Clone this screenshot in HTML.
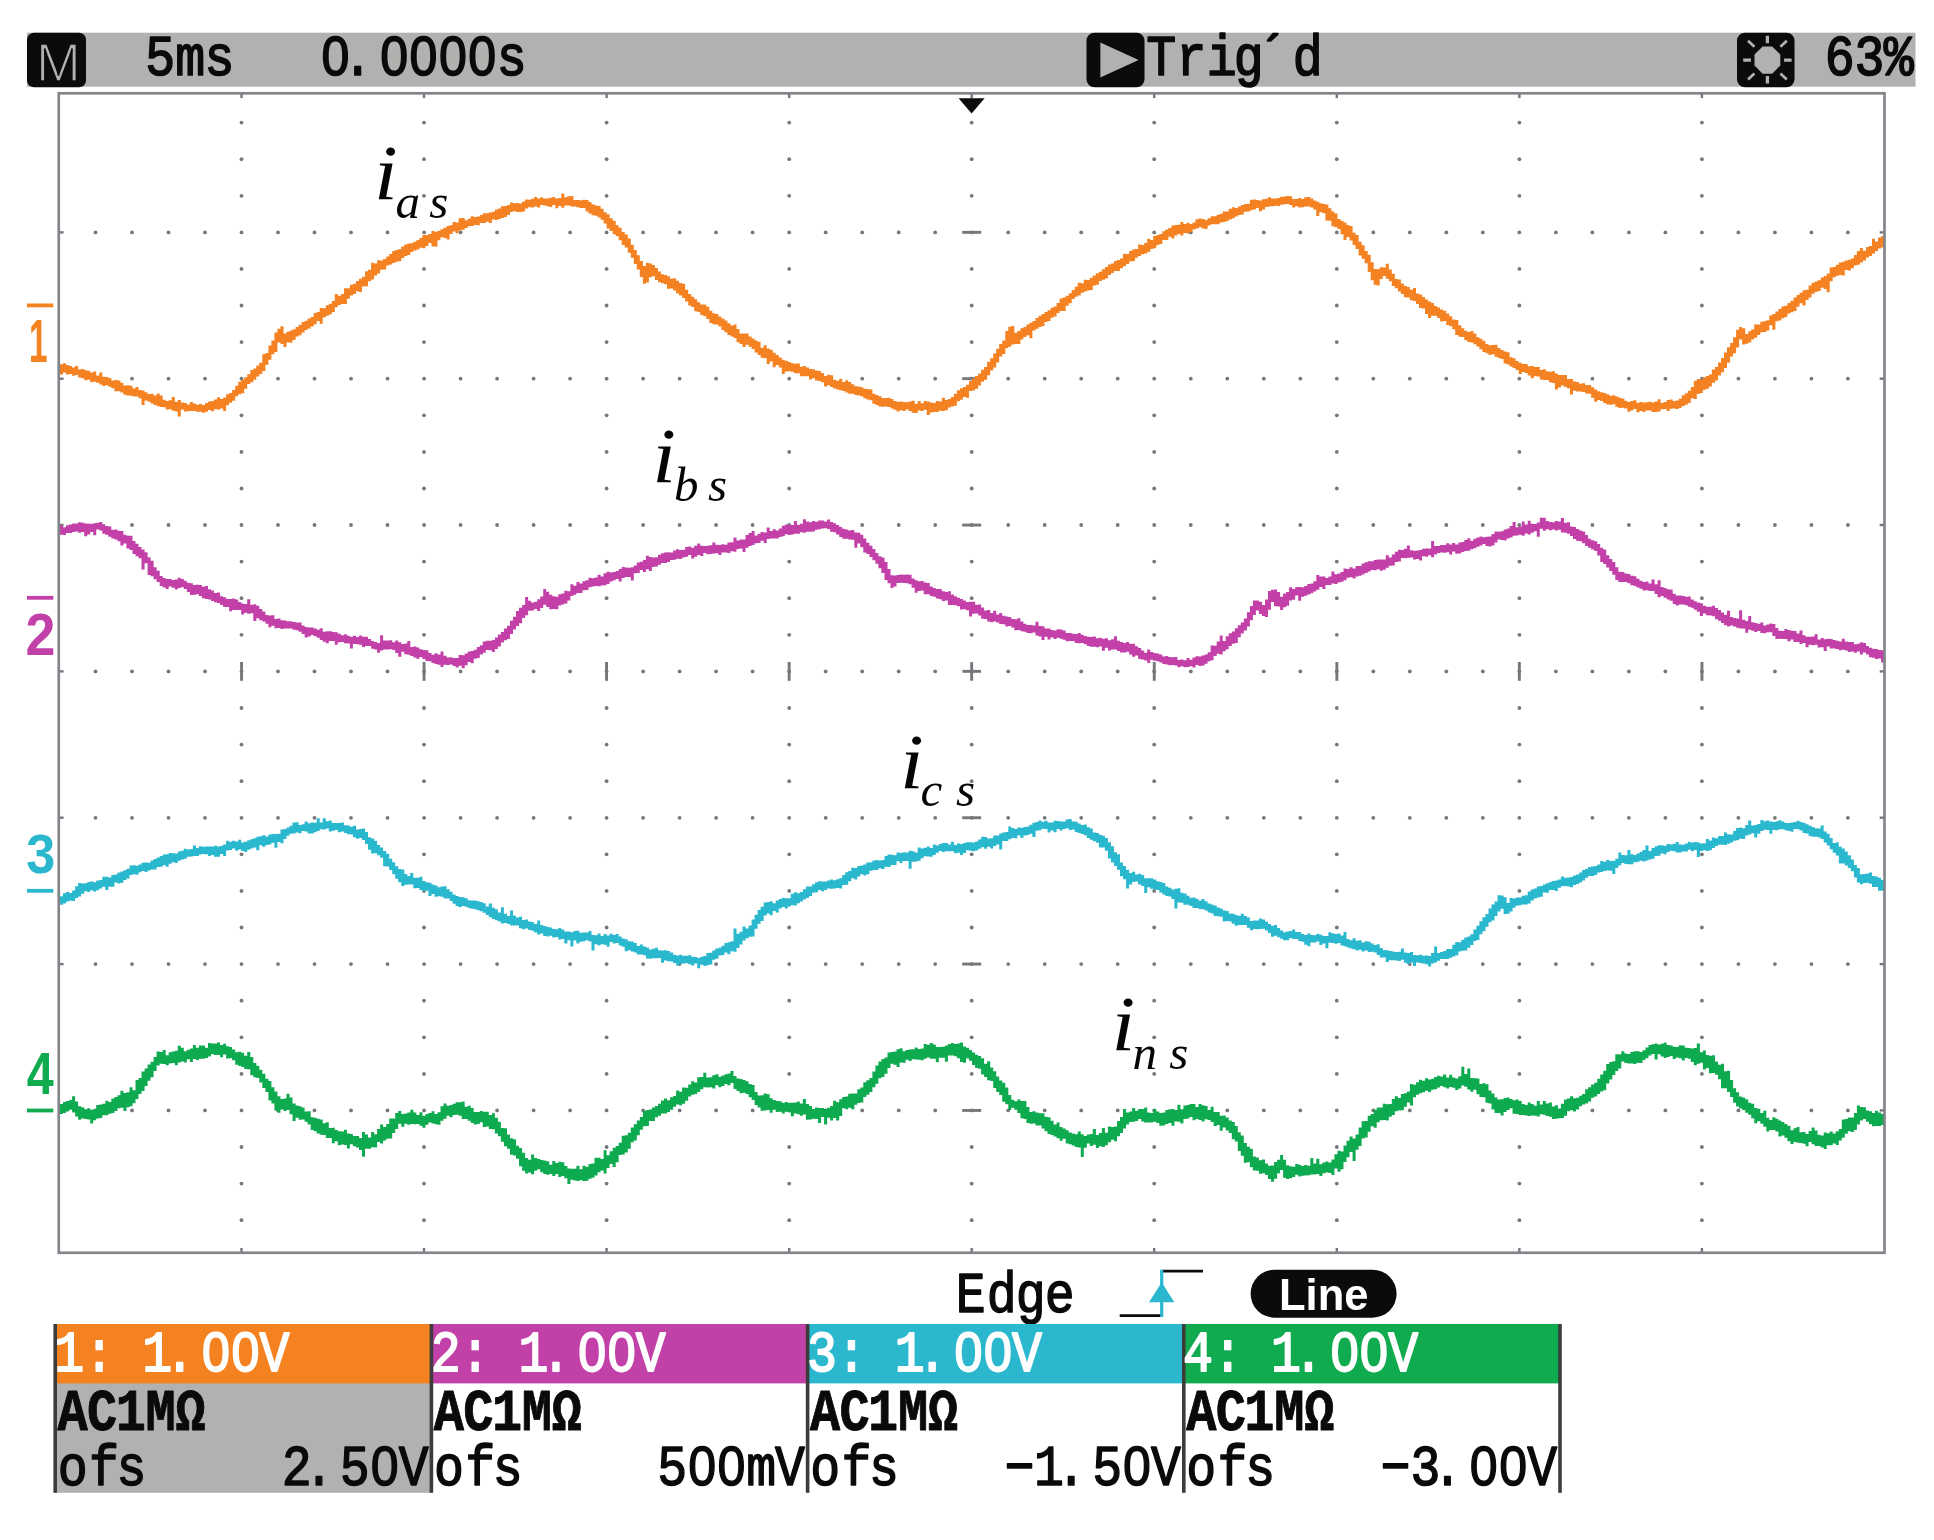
<!DOCTYPE html><html><head><meta charset="utf-8"><style>html,body{margin:0;padding:0;background:#fff}svg{display:block;filter:blur(0.55px)}text{font-family:"Liberation Sans",sans-serif;white-space:pre}.ser{font-family:"Liberation Serif",serif;font-style:italic}.mo{font-family:"Liberation Mono",monospace}</style></head><body>
<svg width="1934" height="1540" viewBox="0 0 1934 1540">
<defs><filter id="bl" x="0" y="0" width="100%" height="100%" filterUnits="userSpaceOnUse"><feGaussianBlur stdDeviation="0.7"/></filter></defs>
<rect width="1934" height="1540" fill="#fff"/>
<rect x="27" y="32.7" width="1888.5" height="54" fill="#b1b1af"/>
<rect x="27" y="32.7" width="59" height="54.6" rx="7" fill="#0b0b0b"/>
<text y="80.5" font-size="54" fill="#b1b1af" stroke="#0b0b0b" stroke-width="1.6"><tspan x="36.1" textLength="44.8" lengthAdjust="spacingAndGlyphs">M</tspan></text>
<text class="mo" transform="scale(0.86 1)" x="168.8 203.8 237.7" y="75.3" font-size="58" fill="#0a0a0a" stroke="#0a0a0a" stroke-width="1.7" stroke-linejoin="round">5ms</text>
<text class="mo" transform="scale(0.86 1)" x="372.7 398.7 440.9 475.1 509.2 543.3 577.7" y="75.3" font-size="58" fill="#0a0a0a" stroke="#0a0a0a" stroke-width="1.7" stroke-linejoin="round">0.0000s</text><rect x="331.1" y="48.7" width="8.8" height="15" rx="2" fill="#b1b1af"/><rect x="389.8" y="48.7" width="8.8" height="15" rx="2" fill="#b1b1af"/><rect x="419.1" y="48.7" width="8.8" height="15" rx="2" fill="#b1b1af"/><rect x="448.4" y="48.7" width="8.8" height="15" rx="2" fill="#b1b1af"/><rect x="477.8" y="48.7" width="8.8" height="15" rx="2" fill="#b1b1af"/>
<rect x="1086.5" y="32.7" width="58" height="54.6" rx="8" fill="#0b0b0b"/>
<path d="M1100.4 42.5V77.4L1138.6 60Z" fill="#b1b1af"/>
<text class="mo" transform="scale(0.86 1)" x="1333.0 1368.1 1403.1 1434.6 1462.4 1503.1" y="75.3" font-size="58" fill="#0a0a0a" stroke="#0a0a0a" stroke-width="1.7" stroke-linejoin="round">Trig´d</text>
<rect x="1737" y="32.7" width="57.5" height="54.6" rx="8" fill="#0b0b0b"/>
<path d="M1762.6000000000001 46.5H1772.2L1780.3000000000002 54.6V65.6L1772.2 73.8H1762.6000000000001L1754.5 65.6V54.6Z" fill="#b1b1af"/>
<g stroke="#b1b1af" stroke-width="3.3" stroke-linecap="butt"><path d="M1767.4 35.8V43.2M1767.4 76.1V83.6M1743.2 60.1H1750.9M1784.1000000000001 60.1H1791.6000000000001"/><path stroke-width="2.7" d="M1748.0 40.8L1754.4 46.8M1786.8000000000002 40.8L1780.4 46.8M1748.0 79.4L1754.4 73.4M1786.8000000000002 79.4L1780.4 73.4"/></g>
<text class="mo" transform="scale(0.86 1)" x="2121.7 2156.4 2190.5" y="75.3" font-size="58" fill="#0a0a0a" stroke="#0a0a0a" stroke-width="1.7" stroke-linejoin="round">63%</text>
<g fill="#75777a">
<circle cx="95.5" cy="232.4" r="1.9"/><circle cx="132.0" cy="232.4" r="1.9"/><circle cx="168.5" cy="232.4" r="1.9"/><circle cx="205.0" cy="232.4" r="1.9"/><circle cx="241.5" cy="232.4" r="1.9"/><circle cx="278.0" cy="232.4" r="1.9"/><circle cx="314.5" cy="232.4" r="1.9"/><circle cx="351.0" cy="232.4" r="1.9"/><circle cx="387.5" cy="232.4" r="1.9"/><circle cx="424.1" cy="232.4" r="1.9"/><circle cx="460.6" cy="232.4" r="1.9"/><circle cx="497.1" cy="232.4" r="1.9"/><circle cx="533.6" cy="232.4" r="1.9"/><circle cx="570.1" cy="232.4" r="1.9"/><circle cx="606.6" cy="232.4" r="1.9"/><circle cx="643.1" cy="232.4" r="1.9"/><circle cx="679.6" cy="232.4" r="1.9"/><circle cx="716.1" cy="232.4" r="1.9"/><circle cx="752.6" cy="232.4" r="1.9"/><circle cx="789.2" cy="232.4" r="1.9"/><circle cx="825.7" cy="232.4" r="1.9"/><circle cx="862.2" cy="232.4" r="1.9"/><circle cx="898.7" cy="232.4" r="1.9"/><circle cx="935.2" cy="232.4" r="1.9"/><circle cx="971.7" cy="232.4" r="1.9"/><circle cx="1008.2" cy="232.4" r="1.9"/><circle cx="1044.7" cy="232.4" r="1.9"/><circle cx="1081.2" cy="232.4" r="1.9"/><circle cx="1117.7" cy="232.4" r="1.9"/><circle cx="1154.2" cy="232.4" r="1.9"/><circle cx="1190.8" cy="232.4" r="1.9"/><circle cx="1227.3" cy="232.4" r="1.9"/><circle cx="1263.8" cy="232.4" r="1.9"/><circle cx="1300.3" cy="232.4" r="1.9"/><circle cx="1336.8" cy="232.4" r="1.9"/><circle cx="1373.3" cy="232.4" r="1.9"/><circle cx="1409.8" cy="232.4" r="1.9"/><circle cx="1446.3" cy="232.4" r="1.9"/><circle cx="1482.8" cy="232.4" r="1.9"/><circle cx="1519.3" cy="232.4" r="1.9"/><circle cx="1555.9" cy="232.4" r="1.9"/><circle cx="1592.4" cy="232.4" r="1.9"/><circle cx="1628.9" cy="232.4" r="1.9"/><circle cx="1665.4" cy="232.4" r="1.9"/><circle cx="1701.9" cy="232.4" r="1.9"/><circle cx="1738.4" cy="232.4" r="1.9"/><circle cx="1774.9" cy="232.4" r="1.9"/><circle cx="1811.4" cy="232.4" r="1.9"/><circle cx="1847.9" cy="232.4" r="1.9"/><circle cx="95.5" cy="378.7" r="1.9"/><circle cx="132.0" cy="378.7" r="1.9"/><circle cx="168.5" cy="378.7" r="1.9"/><circle cx="205.0" cy="378.7" r="1.9"/><circle cx="241.5" cy="378.7" r="1.9"/><circle cx="278.0" cy="378.7" r="1.9"/><circle cx="314.5" cy="378.7" r="1.9"/><circle cx="351.0" cy="378.7" r="1.9"/><circle cx="387.5" cy="378.7" r="1.9"/><circle cx="424.1" cy="378.7" r="1.9"/><circle cx="460.6" cy="378.7" r="1.9"/><circle cx="497.1" cy="378.7" r="1.9"/><circle cx="533.6" cy="378.7" r="1.9"/><circle cx="570.1" cy="378.7" r="1.9"/><circle cx="606.6" cy="378.7" r="1.9"/><circle cx="643.1" cy="378.7" r="1.9"/><circle cx="679.6" cy="378.7" r="1.9"/><circle cx="716.1" cy="378.7" r="1.9"/><circle cx="752.6" cy="378.7" r="1.9"/><circle cx="789.2" cy="378.7" r="1.9"/><circle cx="825.7" cy="378.7" r="1.9"/><circle cx="862.2" cy="378.7" r="1.9"/><circle cx="898.7" cy="378.7" r="1.9"/><circle cx="935.2" cy="378.7" r="1.9"/><circle cx="971.7" cy="378.7" r="1.9"/><circle cx="1008.2" cy="378.7" r="1.9"/><circle cx="1044.7" cy="378.7" r="1.9"/><circle cx="1081.2" cy="378.7" r="1.9"/><circle cx="1117.7" cy="378.7" r="1.9"/><circle cx="1154.2" cy="378.7" r="1.9"/><circle cx="1190.8" cy="378.7" r="1.9"/><circle cx="1227.3" cy="378.7" r="1.9"/><circle cx="1263.8" cy="378.7" r="1.9"/><circle cx="1300.3" cy="378.7" r="1.9"/><circle cx="1336.8" cy="378.7" r="1.9"/><circle cx="1373.3" cy="378.7" r="1.9"/><circle cx="1409.8" cy="378.7" r="1.9"/><circle cx="1446.3" cy="378.7" r="1.9"/><circle cx="1482.8" cy="378.7" r="1.9"/><circle cx="1519.3" cy="378.7" r="1.9"/><circle cx="1555.9" cy="378.7" r="1.9"/><circle cx="1592.4" cy="378.7" r="1.9"/><circle cx="1628.9" cy="378.7" r="1.9"/><circle cx="1665.4" cy="378.7" r="1.9"/><circle cx="1701.9" cy="378.7" r="1.9"/><circle cx="1738.4" cy="378.7" r="1.9"/><circle cx="1774.9" cy="378.7" r="1.9"/><circle cx="1811.4" cy="378.7" r="1.9"/><circle cx="1847.9" cy="378.7" r="1.9"/><circle cx="95.5" cy="525.0" r="1.9"/><circle cx="132.0" cy="525.0" r="1.9"/><circle cx="168.5" cy="525.0" r="1.9"/><circle cx="205.0" cy="525.0" r="1.9"/><circle cx="241.5" cy="525.0" r="1.9"/><circle cx="278.0" cy="525.0" r="1.9"/><circle cx="314.5" cy="525.0" r="1.9"/><circle cx="351.0" cy="525.0" r="1.9"/><circle cx="387.5" cy="525.0" r="1.9"/><circle cx="424.1" cy="525.0" r="1.9"/><circle cx="460.6" cy="525.0" r="1.9"/><circle cx="497.1" cy="525.0" r="1.9"/><circle cx="533.6" cy="525.0" r="1.9"/><circle cx="570.1" cy="525.0" r="1.9"/><circle cx="606.6" cy="525.0" r="1.9"/><circle cx="643.1" cy="525.0" r="1.9"/><circle cx="679.6" cy="525.0" r="1.9"/><circle cx="716.1" cy="525.0" r="1.9"/><circle cx="752.6" cy="525.0" r="1.9"/><circle cx="789.2" cy="525.0" r="1.9"/><circle cx="825.7" cy="525.0" r="1.9"/><circle cx="862.2" cy="525.0" r="1.9"/><circle cx="898.7" cy="525.0" r="1.9"/><circle cx="935.2" cy="525.0" r="1.9"/><circle cx="971.7" cy="525.0" r="1.9"/><circle cx="1008.2" cy="525.0" r="1.9"/><circle cx="1044.7" cy="525.0" r="1.9"/><circle cx="1081.2" cy="525.0" r="1.9"/><circle cx="1117.7" cy="525.0" r="1.9"/><circle cx="1154.2" cy="525.0" r="1.9"/><circle cx="1190.8" cy="525.0" r="1.9"/><circle cx="1227.3" cy="525.0" r="1.9"/><circle cx="1263.8" cy="525.0" r="1.9"/><circle cx="1300.3" cy="525.0" r="1.9"/><circle cx="1336.8" cy="525.0" r="1.9"/><circle cx="1373.3" cy="525.0" r="1.9"/><circle cx="1409.8" cy="525.0" r="1.9"/><circle cx="1446.3" cy="525.0" r="1.9"/><circle cx="1482.8" cy="525.0" r="1.9"/><circle cx="1519.3" cy="525.0" r="1.9"/><circle cx="1555.9" cy="525.0" r="1.9"/><circle cx="1592.4" cy="525.0" r="1.9"/><circle cx="1628.9" cy="525.0" r="1.9"/><circle cx="1665.4" cy="525.0" r="1.9"/><circle cx="1701.9" cy="525.0" r="1.9"/><circle cx="1738.4" cy="525.0" r="1.9"/><circle cx="1774.9" cy="525.0" r="1.9"/><circle cx="1811.4" cy="525.0" r="1.9"/><circle cx="1847.9" cy="525.0" r="1.9"/><circle cx="95.5" cy="671.4" r="1.9"/><circle cx="132.0" cy="671.4" r="1.9"/><circle cx="168.5" cy="671.4" r="1.9"/><circle cx="205.0" cy="671.4" r="1.9"/><circle cx="241.5" cy="671.4" r="1.9"/><circle cx="278.0" cy="671.4" r="1.9"/><circle cx="314.5" cy="671.4" r="1.9"/><circle cx="351.0" cy="671.4" r="1.9"/><circle cx="387.5" cy="671.4" r="1.9"/><circle cx="424.1" cy="671.4" r="1.9"/><circle cx="460.6" cy="671.4" r="1.9"/><circle cx="497.1" cy="671.4" r="1.9"/><circle cx="533.6" cy="671.4" r="1.9"/><circle cx="570.1" cy="671.4" r="1.9"/><circle cx="606.6" cy="671.4" r="1.9"/><circle cx="643.1" cy="671.4" r="1.9"/><circle cx="679.6" cy="671.4" r="1.9"/><circle cx="716.1" cy="671.4" r="1.9"/><circle cx="752.6" cy="671.4" r="1.9"/><circle cx="789.2" cy="671.4" r="1.9"/><circle cx="825.7" cy="671.4" r="1.9"/><circle cx="862.2" cy="671.4" r="1.9"/><circle cx="898.7" cy="671.4" r="1.9"/><circle cx="935.2" cy="671.4" r="1.9"/><circle cx="971.7" cy="671.4" r="1.9"/><circle cx="1008.2" cy="671.4" r="1.9"/><circle cx="1044.7" cy="671.4" r="1.9"/><circle cx="1081.2" cy="671.4" r="1.9"/><circle cx="1117.7" cy="671.4" r="1.9"/><circle cx="1154.2" cy="671.4" r="1.9"/><circle cx="1190.8" cy="671.4" r="1.9"/><circle cx="1227.3" cy="671.4" r="1.9"/><circle cx="1263.8" cy="671.4" r="1.9"/><circle cx="1300.3" cy="671.4" r="1.9"/><circle cx="1336.8" cy="671.4" r="1.9"/><circle cx="1373.3" cy="671.4" r="1.9"/><circle cx="1409.8" cy="671.4" r="1.9"/><circle cx="1446.3" cy="671.4" r="1.9"/><circle cx="1482.8" cy="671.4" r="1.9"/><circle cx="1519.3" cy="671.4" r="1.9"/><circle cx="1555.9" cy="671.4" r="1.9"/><circle cx="1592.4" cy="671.4" r="1.9"/><circle cx="1628.9" cy="671.4" r="1.9"/><circle cx="1665.4" cy="671.4" r="1.9"/><circle cx="1701.9" cy="671.4" r="1.9"/><circle cx="1738.4" cy="671.4" r="1.9"/><circle cx="1774.9" cy="671.4" r="1.9"/><circle cx="1811.4" cy="671.4" r="1.9"/><circle cx="1847.9" cy="671.4" r="1.9"/><circle cx="95.5" cy="817.8" r="1.9"/><circle cx="132.0" cy="817.8" r="1.9"/><circle cx="168.5" cy="817.8" r="1.9"/><circle cx="205.0" cy="817.8" r="1.9"/><circle cx="241.5" cy="817.8" r="1.9"/><circle cx="278.0" cy="817.8" r="1.9"/><circle cx="314.5" cy="817.8" r="1.9"/><circle cx="351.0" cy="817.8" r="1.9"/><circle cx="387.5" cy="817.8" r="1.9"/><circle cx="424.1" cy="817.8" r="1.9"/><circle cx="460.6" cy="817.8" r="1.9"/><circle cx="497.1" cy="817.8" r="1.9"/><circle cx="533.6" cy="817.8" r="1.9"/><circle cx="570.1" cy="817.8" r="1.9"/><circle cx="606.6" cy="817.8" r="1.9"/><circle cx="643.1" cy="817.8" r="1.9"/><circle cx="679.6" cy="817.8" r="1.9"/><circle cx="716.1" cy="817.8" r="1.9"/><circle cx="752.6" cy="817.8" r="1.9"/><circle cx="789.2" cy="817.8" r="1.9"/><circle cx="825.7" cy="817.8" r="1.9"/><circle cx="862.2" cy="817.8" r="1.9"/><circle cx="898.7" cy="817.8" r="1.9"/><circle cx="935.2" cy="817.8" r="1.9"/><circle cx="971.7" cy="817.8" r="1.9"/><circle cx="1008.2" cy="817.8" r="1.9"/><circle cx="1044.7" cy="817.8" r="1.9"/><circle cx="1081.2" cy="817.8" r="1.9"/><circle cx="1117.7" cy="817.8" r="1.9"/><circle cx="1154.2" cy="817.8" r="1.9"/><circle cx="1190.8" cy="817.8" r="1.9"/><circle cx="1227.3" cy="817.8" r="1.9"/><circle cx="1263.8" cy="817.8" r="1.9"/><circle cx="1300.3" cy="817.8" r="1.9"/><circle cx="1336.8" cy="817.8" r="1.9"/><circle cx="1373.3" cy="817.8" r="1.9"/><circle cx="1409.8" cy="817.8" r="1.9"/><circle cx="1446.3" cy="817.8" r="1.9"/><circle cx="1482.8" cy="817.8" r="1.9"/><circle cx="1519.3" cy="817.8" r="1.9"/><circle cx="1555.9" cy="817.8" r="1.9"/><circle cx="1592.4" cy="817.8" r="1.9"/><circle cx="1628.9" cy="817.8" r="1.9"/><circle cx="1665.4" cy="817.8" r="1.9"/><circle cx="1701.9" cy="817.8" r="1.9"/><circle cx="1738.4" cy="817.8" r="1.9"/><circle cx="1774.9" cy="817.8" r="1.9"/><circle cx="1811.4" cy="817.8" r="1.9"/><circle cx="1847.9" cy="817.8" r="1.9"/><circle cx="95.5" cy="964.1" r="1.9"/><circle cx="132.0" cy="964.1" r="1.9"/><circle cx="168.5" cy="964.1" r="1.9"/><circle cx="205.0" cy="964.1" r="1.9"/><circle cx="241.5" cy="964.1" r="1.9"/><circle cx="278.0" cy="964.1" r="1.9"/><circle cx="314.5" cy="964.1" r="1.9"/><circle cx="351.0" cy="964.1" r="1.9"/><circle cx="387.5" cy="964.1" r="1.9"/><circle cx="424.1" cy="964.1" r="1.9"/><circle cx="460.6" cy="964.1" r="1.9"/><circle cx="497.1" cy="964.1" r="1.9"/><circle cx="533.6" cy="964.1" r="1.9"/><circle cx="570.1" cy="964.1" r="1.9"/><circle cx="606.6" cy="964.1" r="1.9"/><circle cx="643.1" cy="964.1" r="1.9"/><circle cx="679.6" cy="964.1" r="1.9"/><circle cx="716.1" cy="964.1" r="1.9"/><circle cx="752.6" cy="964.1" r="1.9"/><circle cx="789.2" cy="964.1" r="1.9"/><circle cx="825.7" cy="964.1" r="1.9"/><circle cx="862.2" cy="964.1" r="1.9"/><circle cx="898.7" cy="964.1" r="1.9"/><circle cx="935.2" cy="964.1" r="1.9"/><circle cx="971.7" cy="964.1" r="1.9"/><circle cx="1008.2" cy="964.1" r="1.9"/><circle cx="1044.7" cy="964.1" r="1.9"/><circle cx="1081.2" cy="964.1" r="1.9"/><circle cx="1117.7" cy="964.1" r="1.9"/><circle cx="1154.2" cy="964.1" r="1.9"/><circle cx="1190.8" cy="964.1" r="1.9"/><circle cx="1227.3" cy="964.1" r="1.9"/><circle cx="1263.8" cy="964.1" r="1.9"/><circle cx="1300.3" cy="964.1" r="1.9"/><circle cx="1336.8" cy="964.1" r="1.9"/><circle cx="1373.3" cy="964.1" r="1.9"/><circle cx="1409.8" cy="964.1" r="1.9"/><circle cx="1446.3" cy="964.1" r="1.9"/><circle cx="1482.8" cy="964.1" r="1.9"/><circle cx="1519.3" cy="964.1" r="1.9"/><circle cx="1555.9" cy="964.1" r="1.9"/><circle cx="1592.4" cy="964.1" r="1.9"/><circle cx="1628.9" cy="964.1" r="1.9"/><circle cx="1665.4" cy="964.1" r="1.9"/><circle cx="1701.9" cy="964.1" r="1.9"/><circle cx="1738.4" cy="964.1" r="1.9"/><circle cx="1774.9" cy="964.1" r="1.9"/><circle cx="1811.4" cy="964.1" r="1.9"/><circle cx="1847.9" cy="964.1" r="1.9"/><circle cx="95.5" cy="1110.4" r="1.9"/><circle cx="132.0" cy="1110.4" r="1.9"/><circle cx="168.5" cy="1110.4" r="1.9"/><circle cx="205.0" cy="1110.4" r="1.9"/><circle cx="241.5" cy="1110.4" r="1.9"/><circle cx="278.0" cy="1110.4" r="1.9"/><circle cx="314.5" cy="1110.4" r="1.9"/><circle cx="351.0" cy="1110.4" r="1.9"/><circle cx="387.5" cy="1110.4" r="1.9"/><circle cx="424.1" cy="1110.4" r="1.9"/><circle cx="460.6" cy="1110.4" r="1.9"/><circle cx="497.1" cy="1110.4" r="1.9"/><circle cx="533.6" cy="1110.4" r="1.9"/><circle cx="570.1" cy="1110.4" r="1.9"/><circle cx="606.6" cy="1110.4" r="1.9"/><circle cx="643.1" cy="1110.4" r="1.9"/><circle cx="679.6" cy="1110.4" r="1.9"/><circle cx="716.1" cy="1110.4" r="1.9"/><circle cx="752.6" cy="1110.4" r="1.9"/><circle cx="789.2" cy="1110.4" r="1.9"/><circle cx="825.7" cy="1110.4" r="1.9"/><circle cx="862.2" cy="1110.4" r="1.9"/><circle cx="898.7" cy="1110.4" r="1.9"/><circle cx="935.2" cy="1110.4" r="1.9"/><circle cx="971.7" cy="1110.4" r="1.9"/><circle cx="1008.2" cy="1110.4" r="1.9"/><circle cx="1044.7" cy="1110.4" r="1.9"/><circle cx="1081.2" cy="1110.4" r="1.9"/><circle cx="1117.7" cy="1110.4" r="1.9"/><circle cx="1154.2" cy="1110.4" r="1.9"/><circle cx="1190.8" cy="1110.4" r="1.9"/><circle cx="1227.3" cy="1110.4" r="1.9"/><circle cx="1263.8" cy="1110.4" r="1.9"/><circle cx="1300.3" cy="1110.4" r="1.9"/><circle cx="1336.8" cy="1110.4" r="1.9"/><circle cx="1373.3" cy="1110.4" r="1.9"/><circle cx="1409.8" cy="1110.4" r="1.9"/><circle cx="1446.3" cy="1110.4" r="1.9"/><circle cx="1482.8" cy="1110.4" r="1.9"/><circle cx="1519.3" cy="1110.4" r="1.9"/><circle cx="1555.9" cy="1110.4" r="1.9"/><circle cx="1592.4" cy="1110.4" r="1.9"/><circle cx="1628.9" cy="1110.4" r="1.9"/><circle cx="1665.4" cy="1110.4" r="1.9"/><circle cx="1701.9" cy="1110.4" r="1.9"/><circle cx="1738.4" cy="1110.4" r="1.9"/><circle cx="1774.9" cy="1110.4" r="1.9"/><circle cx="1811.4" cy="1110.4" r="1.9"/><circle cx="1847.9" cy="1110.4" r="1.9"/><circle cx="241.5" cy="122.6" r="1.9"/><circle cx="241.5" cy="159.2" r="1.9"/><circle cx="241.5" cy="195.8" r="1.9"/><circle cx="241.5" cy="268.9" r="1.9"/><circle cx="241.5" cy="305.5" r="1.9"/><circle cx="241.5" cy="342.1" r="1.9"/><circle cx="241.5" cy="415.3" r="1.9"/><circle cx="241.5" cy="451.9" r="1.9"/><circle cx="241.5" cy="488.5" r="1.9"/><circle cx="241.5" cy="561.6" r="1.9"/><circle cx="241.5" cy="598.2" r="1.9"/><circle cx="241.5" cy="634.8" r="1.9"/><circle cx="241.5" cy="708.0" r="1.9"/><circle cx="241.5" cy="744.6" r="1.9"/><circle cx="241.5" cy="781.2" r="1.9"/><circle cx="241.5" cy="854.3" r="1.9"/><circle cx="241.5" cy="890.9" r="1.9"/><circle cx="241.5" cy="927.5" r="1.9"/><circle cx="241.5" cy="1000.7" r="1.9"/><circle cx="241.5" cy="1037.3" r="1.9"/><circle cx="241.5" cy="1073.9" r="1.9"/><circle cx="241.5" cy="1147.0" r="1.9"/><circle cx="241.5" cy="1183.6" r="1.9"/><circle cx="241.5" cy="1220.2" r="1.9"/><circle cx="424.0" cy="122.6" r="1.9"/><circle cx="424.0" cy="159.2" r="1.9"/><circle cx="424.0" cy="195.8" r="1.9"/><circle cx="424.0" cy="268.9" r="1.9"/><circle cx="424.0" cy="305.5" r="1.9"/><circle cx="424.0" cy="342.1" r="1.9"/><circle cx="424.0" cy="415.3" r="1.9"/><circle cx="424.0" cy="451.9" r="1.9"/><circle cx="424.0" cy="488.5" r="1.9"/><circle cx="424.0" cy="561.6" r="1.9"/><circle cx="424.0" cy="598.2" r="1.9"/><circle cx="424.0" cy="634.8" r="1.9"/><circle cx="424.0" cy="708.0" r="1.9"/><circle cx="424.0" cy="744.6" r="1.9"/><circle cx="424.0" cy="781.2" r="1.9"/><circle cx="424.0" cy="854.3" r="1.9"/><circle cx="424.0" cy="890.9" r="1.9"/><circle cx="424.0" cy="927.5" r="1.9"/><circle cx="424.0" cy="1000.7" r="1.9"/><circle cx="424.0" cy="1037.3" r="1.9"/><circle cx="424.0" cy="1073.9" r="1.9"/><circle cx="424.0" cy="1147.0" r="1.9"/><circle cx="424.0" cy="1183.6" r="1.9"/><circle cx="424.0" cy="1220.2" r="1.9"/><circle cx="606.6" cy="122.6" r="1.9"/><circle cx="606.6" cy="159.2" r="1.9"/><circle cx="606.6" cy="195.8" r="1.9"/><circle cx="606.6" cy="268.9" r="1.9"/><circle cx="606.6" cy="305.5" r="1.9"/><circle cx="606.6" cy="342.1" r="1.9"/><circle cx="606.6" cy="415.3" r="1.9"/><circle cx="606.6" cy="451.9" r="1.9"/><circle cx="606.6" cy="488.5" r="1.9"/><circle cx="606.6" cy="561.6" r="1.9"/><circle cx="606.6" cy="598.2" r="1.9"/><circle cx="606.6" cy="634.8" r="1.9"/><circle cx="606.6" cy="708.0" r="1.9"/><circle cx="606.6" cy="744.6" r="1.9"/><circle cx="606.6" cy="781.2" r="1.9"/><circle cx="606.6" cy="854.3" r="1.9"/><circle cx="606.6" cy="890.9" r="1.9"/><circle cx="606.6" cy="927.5" r="1.9"/><circle cx="606.6" cy="1000.7" r="1.9"/><circle cx="606.6" cy="1037.3" r="1.9"/><circle cx="606.6" cy="1073.9" r="1.9"/><circle cx="606.6" cy="1147.0" r="1.9"/><circle cx="606.6" cy="1183.6" r="1.9"/><circle cx="606.6" cy="1220.2" r="1.9"/><circle cx="789.2" cy="122.6" r="1.9"/><circle cx="789.2" cy="159.2" r="1.9"/><circle cx="789.2" cy="195.8" r="1.9"/><circle cx="789.2" cy="268.9" r="1.9"/><circle cx="789.2" cy="305.5" r="1.9"/><circle cx="789.2" cy="342.1" r="1.9"/><circle cx="789.2" cy="415.3" r="1.9"/><circle cx="789.2" cy="451.9" r="1.9"/><circle cx="789.2" cy="488.5" r="1.9"/><circle cx="789.2" cy="561.6" r="1.9"/><circle cx="789.2" cy="598.2" r="1.9"/><circle cx="789.2" cy="634.8" r="1.9"/><circle cx="789.2" cy="708.0" r="1.9"/><circle cx="789.2" cy="744.6" r="1.9"/><circle cx="789.2" cy="781.2" r="1.9"/><circle cx="789.2" cy="854.3" r="1.9"/><circle cx="789.2" cy="890.9" r="1.9"/><circle cx="789.2" cy="927.5" r="1.9"/><circle cx="789.2" cy="1000.7" r="1.9"/><circle cx="789.2" cy="1037.3" r="1.9"/><circle cx="789.2" cy="1073.9" r="1.9"/><circle cx="789.2" cy="1147.0" r="1.9"/><circle cx="789.2" cy="1183.6" r="1.9"/><circle cx="789.2" cy="1220.2" r="1.9"/><circle cx="971.7" cy="122.6" r="1.9"/><circle cx="971.7" cy="159.2" r="1.9"/><circle cx="971.7" cy="195.8" r="1.9"/><circle cx="971.7" cy="268.9" r="1.9"/><circle cx="971.7" cy="305.5" r="1.9"/><circle cx="971.7" cy="342.1" r="1.9"/><circle cx="971.7" cy="415.3" r="1.9"/><circle cx="971.7" cy="451.9" r="1.9"/><circle cx="971.7" cy="488.5" r="1.9"/><circle cx="971.7" cy="561.6" r="1.9"/><circle cx="971.7" cy="598.2" r="1.9"/><circle cx="971.7" cy="634.8" r="1.9"/><circle cx="971.7" cy="708.0" r="1.9"/><circle cx="971.7" cy="744.6" r="1.9"/><circle cx="971.7" cy="781.2" r="1.9"/><circle cx="971.7" cy="854.3" r="1.9"/><circle cx="971.7" cy="890.9" r="1.9"/><circle cx="971.7" cy="927.5" r="1.9"/><circle cx="971.7" cy="1000.7" r="1.9"/><circle cx="971.7" cy="1037.3" r="1.9"/><circle cx="971.7" cy="1073.9" r="1.9"/><circle cx="971.7" cy="1147.0" r="1.9"/><circle cx="971.7" cy="1183.6" r="1.9"/><circle cx="971.7" cy="1220.2" r="1.9"/><circle cx="1154.2" cy="122.6" r="1.9"/><circle cx="1154.2" cy="159.2" r="1.9"/><circle cx="1154.2" cy="195.8" r="1.9"/><circle cx="1154.2" cy="268.9" r="1.9"/><circle cx="1154.2" cy="305.5" r="1.9"/><circle cx="1154.2" cy="342.1" r="1.9"/><circle cx="1154.2" cy="415.3" r="1.9"/><circle cx="1154.2" cy="451.9" r="1.9"/><circle cx="1154.2" cy="488.5" r="1.9"/><circle cx="1154.2" cy="561.6" r="1.9"/><circle cx="1154.2" cy="598.2" r="1.9"/><circle cx="1154.2" cy="634.8" r="1.9"/><circle cx="1154.2" cy="708.0" r="1.9"/><circle cx="1154.2" cy="744.6" r="1.9"/><circle cx="1154.2" cy="781.2" r="1.9"/><circle cx="1154.2" cy="854.3" r="1.9"/><circle cx="1154.2" cy="890.9" r="1.9"/><circle cx="1154.2" cy="927.5" r="1.9"/><circle cx="1154.2" cy="1000.7" r="1.9"/><circle cx="1154.2" cy="1037.3" r="1.9"/><circle cx="1154.2" cy="1073.9" r="1.9"/><circle cx="1154.2" cy="1147.0" r="1.9"/><circle cx="1154.2" cy="1183.6" r="1.9"/><circle cx="1154.2" cy="1220.2" r="1.9"/><circle cx="1336.8" cy="122.6" r="1.9"/><circle cx="1336.8" cy="159.2" r="1.9"/><circle cx="1336.8" cy="195.8" r="1.9"/><circle cx="1336.8" cy="268.9" r="1.9"/><circle cx="1336.8" cy="305.5" r="1.9"/><circle cx="1336.8" cy="342.1" r="1.9"/><circle cx="1336.8" cy="415.3" r="1.9"/><circle cx="1336.8" cy="451.9" r="1.9"/><circle cx="1336.8" cy="488.5" r="1.9"/><circle cx="1336.8" cy="561.6" r="1.9"/><circle cx="1336.8" cy="598.2" r="1.9"/><circle cx="1336.8" cy="634.8" r="1.9"/><circle cx="1336.8" cy="708.0" r="1.9"/><circle cx="1336.8" cy="744.6" r="1.9"/><circle cx="1336.8" cy="781.2" r="1.9"/><circle cx="1336.8" cy="854.3" r="1.9"/><circle cx="1336.8" cy="890.9" r="1.9"/><circle cx="1336.8" cy="927.5" r="1.9"/><circle cx="1336.8" cy="1000.7" r="1.9"/><circle cx="1336.8" cy="1037.3" r="1.9"/><circle cx="1336.8" cy="1073.9" r="1.9"/><circle cx="1336.8" cy="1147.0" r="1.9"/><circle cx="1336.8" cy="1183.6" r="1.9"/><circle cx="1336.8" cy="1220.2" r="1.9"/><circle cx="1519.4" cy="122.6" r="1.9"/><circle cx="1519.4" cy="159.2" r="1.9"/><circle cx="1519.4" cy="195.8" r="1.9"/><circle cx="1519.4" cy="268.9" r="1.9"/><circle cx="1519.4" cy="305.5" r="1.9"/><circle cx="1519.4" cy="342.1" r="1.9"/><circle cx="1519.4" cy="415.3" r="1.9"/><circle cx="1519.4" cy="451.9" r="1.9"/><circle cx="1519.4" cy="488.5" r="1.9"/><circle cx="1519.4" cy="561.6" r="1.9"/><circle cx="1519.4" cy="598.2" r="1.9"/><circle cx="1519.4" cy="634.8" r="1.9"/><circle cx="1519.4" cy="708.0" r="1.9"/><circle cx="1519.4" cy="744.6" r="1.9"/><circle cx="1519.4" cy="781.2" r="1.9"/><circle cx="1519.4" cy="854.3" r="1.9"/><circle cx="1519.4" cy="890.9" r="1.9"/><circle cx="1519.4" cy="927.5" r="1.9"/><circle cx="1519.4" cy="1000.7" r="1.9"/><circle cx="1519.4" cy="1037.3" r="1.9"/><circle cx="1519.4" cy="1073.9" r="1.9"/><circle cx="1519.4" cy="1147.0" r="1.9"/><circle cx="1519.4" cy="1183.6" r="1.9"/><circle cx="1519.4" cy="1220.2" r="1.9"/><circle cx="1701.9" cy="122.6" r="1.9"/><circle cx="1701.9" cy="159.2" r="1.9"/><circle cx="1701.9" cy="195.8" r="1.9"/><circle cx="1701.9" cy="268.9" r="1.9"/><circle cx="1701.9" cy="305.5" r="1.9"/><circle cx="1701.9" cy="342.1" r="1.9"/><circle cx="1701.9" cy="415.3" r="1.9"/><circle cx="1701.9" cy="451.9" r="1.9"/><circle cx="1701.9" cy="488.5" r="1.9"/><circle cx="1701.9" cy="561.6" r="1.9"/><circle cx="1701.9" cy="598.2" r="1.9"/><circle cx="1701.9" cy="634.8" r="1.9"/><circle cx="1701.9" cy="708.0" r="1.9"/><circle cx="1701.9" cy="744.6" r="1.9"/><circle cx="1701.9" cy="781.2" r="1.9"/><circle cx="1701.9" cy="854.3" r="1.9"/><circle cx="1701.9" cy="890.9" r="1.9"/><circle cx="1701.9" cy="927.5" r="1.9"/><circle cx="1701.9" cy="1000.7" r="1.9"/><circle cx="1701.9" cy="1037.3" r="1.9"/><circle cx="1701.9" cy="1073.9" r="1.9"/><circle cx="1701.9" cy="1147.0" r="1.9"/><circle cx="1701.9" cy="1183.6" r="1.9"/><circle cx="1701.9" cy="1220.2" r="1.9"/>
<rect x="240.3" y="93.3" width="2.4" height="4.8"/><rect x="240.3" y="1248.0" width="2.4" height="4.8"/><rect x="240.1" y="662.0" width="2.9" height="18.8"/><rect x="422.8" y="93.3" width="2.4" height="4.8"/><rect x="422.8" y="1248.0" width="2.4" height="4.8"/><rect x="422.6" y="662.0" width="2.9" height="18.8"/><rect x="605.4" y="93.3" width="2.4" height="4.8"/><rect x="605.4" y="1248.0" width="2.4" height="4.8"/><rect x="605.1" y="662.0" width="2.9" height="18.8"/><rect x="788.0" y="93.3" width="2.4" height="4.8"/><rect x="788.0" y="1248.0" width="2.4" height="4.8"/><rect x="787.7" y="662.0" width="2.9" height="18.8"/><rect x="970.5" y="93.3" width="2.4" height="4.8"/><rect x="970.5" y="1248.0" width="2.4" height="4.8"/><rect x="1153.0" y="93.3" width="2.4" height="4.8"/><rect x="1153.0" y="1248.0" width="2.4" height="4.8"/><rect x="1152.8" y="662.0" width="2.9" height="18.8"/><rect x="1335.6" y="93.3" width="2.4" height="4.8"/><rect x="1335.6" y="1248.0" width="2.4" height="4.8"/><rect x="1335.4" y="662.0" width="2.9" height="18.8"/><rect x="1518.2" y="93.3" width="2.4" height="4.8"/><rect x="1518.2" y="1248.0" width="2.4" height="4.8"/><rect x="1517.9" y="662.0" width="2.9" height="18.8"/><rect x="1700.7" y="93.3" width="2.4" height="4.8"/><rect x="1700.7" y="1248.0" width="2.4" height="4.8"/><rect x="1700.5" y="662.0" width="2.9" height="18.8"/><rect x="58.8" y="231.2" width="4.8" height="2.4"/><rect x="1879.7" y="231.2" width="4.8" height="2.4"/><rect x="962.2" y="230.9" width="19" height="2.9"/><rect x="58.8" y="377.5" width="4.8" height="2.4"/><rect x="1879.7" y="377.5" width="4.8" height="2.4"/><rect x="962.2" y="377.2" width="19" height="2.9"/><rect x="58.8" y="523.8" width="4.8" height="2.4"/><rect x="1879.7" y="523.8" width="4.8" height="2.4"/><rect x="962.2" y="523.6" width="19" height="2.9"/><rect x="58.8" y="670.2" width="4.8" height="2.4"/><rect x="1879.7" y="670.2" width="4.8" height="2.4"/><rect x="58.8" y="816.5" width="4.8" height="2.4"/><rect x="1879.7" y="816.5" width="4.8" height="2.4"/><rect x="962.2" y="816.3" width="19" height="2.9"/><rect x="58.8" y="962.9" width="4.8" height="2.4"/><rect x="1879.7" y="962.9" width="4.8" height="2.4"/><rect x="962.2" y="962.6" width="19" height="2.9"/><rect x="58.8" y="1109.2" width="4.8" height="2.4"/><rect x="1879.7" y="1109.2" width="4.8" height="2.4"/><rect x="962.2" y="1109.0" width="19" height="2.9"/><rect x="962.4" y="669.9" width="18.6" height="2.9"/><rect x="970.2" y="662.1" width="2.9" height="18.6"/>
</g>
<g filter="url(#bl)">
<path d="M60.0 364.3V364.3H63.0V363.3H66.0V365.1H69.1V365.9H72.1V367.5H75.1V366.0H78.1V369.5H81.1V369.1H84.2V370.2H87.2V370.8H90.2V372.6H93.2V371.5H96.2V375.4H99.3V372.4H102.3V376.7H105.3V377.1H108.3V377.9H111.3V380.4H114.4V380.0H117.4V380.6H120.4V382.8H123.4V385.6H126.4V385.2H129.5V385.8H132.5V388.4H135.5V386.9H138.5V390.1H141.5V390.6H144.6V392.3H147.6V394.0H150.6V393.7H153.6V395.6H156.6V393.6H159.7V395.4H162.7V399.7H165.7V400.9H168.7V400.3H171.7V397.1H174.8V401.7H177.8V400.0H180.8V402.4H183.8V403.1H186.8V404.4H189.9V402.0H192.9V403.4H195.9V404.8H198.9V404.0H201.9V405.1H205.0V403.0H208.0V401.4H211.0V400.9H214.0V399.4H217.0V397.2H220.1V399.1H223.1V397.5H226.1V394.3H229.1V392.9H232.1V389.9H235.2V385.8H238.2V381.8H241.2V379.8H244.2V377.2H247.2V374.3H250.3V369.9H253.3V368.4H256.3V365.6H259.3V362.7H262.3V354.2H265.4V352.9H268.4V345.5H271.4V340.5H274.4V332.5H277.4V328.8H280.5V326.3H283.5V333.6H286.5V331.8H289.5V330.4H292.5V329.3H295.6V326.9H298.6V324.7H301.6V322.0H304.6V320.7H307.6V318.4H310.7V316.9H313.7V313.1H316.7V312.0H319.7V308.1H322.7V308.3H325.8V305.3H328.8V303.7H331.8V301.1H334.8V294.0H337.8V295.8H340.9V294.0H343.9V288.2H346.9V288.2H349.9V284.8H352.9V283.8H356.0V280.9H359.0V278.7H362.0V276.7H365.0V271.3H368.0V269.7H371.1V262.7H374.1V263.4H377.1V260.3H380.1V260.6H383.1V258.9H386.2V256.6H389.2V254.1H392.2V250.9H395.2V250.0H398.2V249.2H401.3V246.5H404.3V244.5H407.3V243.4H410.3V243.2H413.3V241.8H416.4V240.1H419.4V237.9H422.4V235.1H425.4V235.1H428.4V234.1H431.5V231.0H434.5V231.7H437.5V230.7H440.5V229.2H443.5V227.7H446.6V226.0H449.6V225.2H452.6V222.1H455.6V222.5H458.6V218.3H461.7V218.1H464.7V220.2H467.7V218.7H470.7V216.2H473.7V217.1H476.8V216.6H479.8V215.0H482.8V213.3H485.8V213.2H488.8V212.6H491.9V211.7H494.9V209.6H497.9V208.5H500.9V206.3H503.9V206.0H507.0V205.1H510.0V202.6H513.0V203.3H516.0V202.9H519.0V203.5H522.1V201.5H525.1V199.4H528.1V199.8H531.1V198.8H534.1V197.0H537.2V198.4H540.2V197.3H543.2V198.4H546.2V198.6H549.2V197.7H552.3V197.1H555.3V198.6H558.3V198.0H561.3V193.5H564.3V197.3H567.4V196.3H570.4V196.0H573.4V200.0H576.4V200.0H579.4V200.2H582.5V199.7H585.5V199.9H588.5V202.0H591.5V204.3H594.5V205.5H597.6V205.9H600.6V208.8H603.6V212.3H606.6V214.2H609.6V218.2H612.7V220.7H615.7V225.2H618.7V227.8H621.7V232.0H624.7V234.4H627.8V238.6H630.8V244.7H633.8V249.9H636.8V255.3H639.8V261.0H642.9V265.9H645.9V262.8H648.9V263.5H651.9V265.0H654.9V267.9H658.0V271.5H661.0V274.3H664.0V274.9H667.0V276.2H670.0V278.8H673.1V278.2H676.1V280.8H679.1V282.9H682.1V283.7H685.1V289.7H688.2V294.1H691.2V296.7H694.2V299.2H697.2V302.2H700.2V304.5H703.3V304.5H706.3V306.8H709.3V310.8H712.3V313.2H715.3V313.9H718.4V316.5H721.4V318.5H724.4V320.6H727.4V323.3H730.4V325.6H733.5V324.6H736.5V329.1H739.5V333.6H742.5V333.5H745.5V333.5H748.6V336.5H751.6V338.6H754.6V340.4H757.6V341.8H760.6V347.8H763.7V345.3H766.7V348.4H769.7V349.7H772.7V352.8H775.7V354.9H778.8V357.5H781.8V359.8H784.8V360.7H787.8V362.1H790.8V363.2H793.9V363.8H796.9V363.4H799.9V366.8H802.9V366.0H805.9V367.4H809.0V369.1H812.0V369.2H815.0V370.6H818.0V371.1H821.0V373.0H824.1V375.9H827.1V374.7H830.1V375.3H833.1V379.7H836.1V380.7H839.2V378.7H842.2V381.9H845.2V380.2H848.2V382.1H851.2V384.2H854.3V386.3H857.3V386.5H860.3V387.3H863.3V388.8H866.3V389.0H869.4V389.4H872.4V393.7H875.4V395.0H878.4V396.3H881.4V398.0H884.5V398.0H887.5V397.8H890.5V398.9H893.5V400.9H896.5V401.8H899.6V401.6H902.6V402.1H905.6V402.3H908.6V401.4H911.6V400.8H914.7V403.8H917.7V401.1H920.7V403.2H923.7V401.1H926.7V401.4H929.8V402.5H932.8V402.9H935.8V401.0H938.8V401.6H941.8V397.7H944.9V400.0H947.9V399.0H950.9V396.9H953.9V393.7H956.9V390.2H960.0V388.2H963.0V387.0H966.0V384.8H969.0V381.0H972.0V378.6H975.1V376.0H978.1V373.6H981.1V369.7H984.1V366.9H987.1V361.7H990.2V358.3H993.2V353.5H996.2V348.7H999.2V343.9H1002.2V340.5H1005.3V331.0H1008.3V326.7H1011.3V326.1H1014.3V332.7H1017.3V331.1H1020.4V328.3H1023.4V326.9H1026.4V324.6H1029.4V322.8H1032.4V320.9H1035.5V317.9H1038.5V315.7H1041.5V313.9H1044.5V312.1H1047.5V310.2H1050.6V307.8H1053.6V306.5H1056.6V303.1H1059.6V298.5H1062.6V297.4H1065.7V295.7H1068.7V293.2H1071.7V290.0H1074.7V286.7H1077.7V282.8H1080.8V283.2H1083.8V279.8H1086.8V279.9H1089.8V277.8H1092.8V275.6H1095.9V273.2H1098.9V271.7H1101.9V269.2H1104.9V267.0H1107.9V264.5H1111.0V263.5H1114.0V260.9H1117.0V260.1H1120.0V258.5H1123.0V253.7H1126.1V254.1H1129.1V250.9H1132.1V249.5H1135.1V249.1H1138.1V244.4H1141.2V245.1H1144.2V242.9H1147.2V238.8H1150.2V240.0H1153.2V235.9H1156.3V234.9H1159.3V233.9H1162.3V231.3H1165.3V229.5H1168.3V228.1H1171.4V225.6H1174.4V225.1H1177.4V224.7H1180.4V221.9H1183.4V224.0H1186.5V222.7H1189.5V224.0H1192.5V222.5H1195.5V219.3H1198.5V218.6H1201.6V219.1H1204.6V220.1H1207.6V218.2H1210.6V216.3H1213.6V216.3H1216.7V214.7H1219.7V213.8H1222.7V211.5H1225.7V211.6H1228.7V208.7H1231.8V207.2H1234.8V208.1H1237.8V206.6H1240.8V205.0H1243.8V204.0H1246.9V203.7H1249.9V199.8H1252.9V199.5H1255.9V200.1H1258.9V200.5H1262.0V199.2H1265.0V198.8H1268.0V197.2H1271.0V198.4H1274.0V198.5H1277.1V197.9H1280.1V196.7H1283.1V196.5H1286.1V196.1H1289.1V196.2H1292.2V199.1H1295.2V199.1H1298.2V198.0H1301.2V199.0H1304.2V197.3H1307.3V197.1H1310.3V198.4H1313.3V200.4H1316.3V201.8H1319.3V203.3H1322.4V204.0H1325.4V204.6H1328.4V208.3H1331.4V211.4H1334.4V213.6H1337.5V219.0H1340.5V220.8H1343.5V222.6H1346.5V225.1H1349.5V226.0H1352.6V232.7H1355.6V234.9H1358.6V241.8H1361.6V245.2H1364.6V251.1H1367.7V254.7H1370.7V262.3H1373.7V268.9H1376.7V269.3H1379.7V267.3H1382.8V267.6H1385.8V263.7H1388.8V269.5H1391.8V273.7H1394.8V278.9H1397.9V279.6H1400.9V283.5H1403.9V286.1H1406.9V287.0H1409.9V289.7H1413.0V288.1H1416.0V293.4H1419.0V294.5H1422.0V297.0H1425.0V299.4H1428.1V301.6H1431.1V302.9H1434.1V305.9H1437.1V307.5H1440.1V309.5H1443.2V310.7H1446.2V313.5H1449.2V316.2H1452.2V319.4H1455.2V320.1H1458.3V325.2H1461.3V328.3H1464.3V330.7H1467.3V332.1H1470.3V331.0H1473.4V333.4H1476.4V337.3H1479.4V338.8H1482.4V340.7H1485.4V343.9H1488.5V345.2H1491.5V345.1H1494.5V344.8H1497.5V348.1H1500.5V350.0H1503.6V351.6H1506.6V352.2H1509.6V357.3H1512.6V358.2H1515.6V361.1H1518.7V362.8H1521.7V364.1H1524.7V364.0H1527.7V366.2H1530.7V366.0H1533.8V367.1H1536.8V366.9H1539.8V369.9H1542.8V369.2H1545.8V371.3H1548.9V371.8H1551.9V371.3H1554.9V373.5H1557.9V375.1H1560.9V375.1H1564.0V375.0H1567.0V378.9H1570.0V379.0H1573.0V381.4H1576.0V382.1H1579.1V383.8H1582.1V383.3H1585.1V384.9H1588.1V385.1H1591.1V387.2H1594.2V389.4H1597.2V391.3H1600.2V392.3H1603.2V393.0H1606.2V394.2H1609.3V395.8H1612.3V395.3H1615.3V396.5H1618.3V397.8H1621.3V398.5H1624.4V400.8H1627.4V401.9H1630.4V400.9H1633.4V400.3H1636.4V402.7H1639.5V402.0H1642.5V402.4H1645.5V402.3H1648.5V401.7H1651.5V402.5H1654.6V401.4H1657.6V399.3H1660.6V403.1H1663.6V402.0H1666.6V399.9H1669.7V399.6H1672.7V401.1H1675.7V400.4H1678.7V398.7H1681.7V395.2H1684.8V393.2H1687.8V390.8H1690.8V387.0H1693.8V380.7H1696.8V379.1H1699.9V379.4H1702.9V377.3H1705.9V376.1H1708.9V374.4H1711.9V369.5H1715.0V366.9H1718.0V362.4H1721.0V358.0H1724.0V352.5H1727.0V347.2H1730.1V343.1H1733.1V337.3H1736.1V329.8H1739.1V326.9H1742.1V328.2H1745.2V333.9H1748.2V331.3H1751.2V329.5H1754.2V324.4H1757.2V324.4H1760.3V321.7H1763.3V321.3H1766.3V320.2H1769.3V315.6H1772.3V314.1H1775.4V311.4H1778.4V308.9H1781.4V306.4H1784.4V305.7H1787.4V303.0H1790.5V300.7H1793.5V297.4H1796.5V295.1H1799.5V292.7H1802.5V290.3H1805.6V289.8H1808.6V285.6H1811.6V282.7H1814.6V281.6H1817.6V280.2H1820.7V277.6H1823.7V276.0H1826.7V273.5H1829.7V267.6H1832.7V266.9H1835.8V264.8H1838.8V262.5H1841.8V261.8H1844.8V260.6H1847.8V259.8H1850.9V258.5H1853.9V255.1H1856.9V251.0H1859.9V247.9H1862.9V250.8H1866.0V246.9H1869.0V246.1H1872.0V238.7H1875.0V241.4H1878.0V237.6H1881.1V236.0H1884.1V238.4H1884.6V245.5H1884.1V247.5H1881.1V248.4H1878.0V251.1H1875.0V253.4H1872.0V255.9H1869.0V257.4H1866.0V260.6H1862.9V262.6H1859.9V264.7H1856.9V265.5H1853.9V268.3H1850.9V270.4H1847.8V270.0H1844.8V275.5H1841.8V275.0H1838.8V275.8H1835.8V277.3H1832.7V281.2H1829.7V292.2H1826.7V288.9H1823.7V287.8H1820.7V291.0H1817.6V292.0H1814.6V293.7H1811.6V297.5H1808.6V300.1H1805.6V305.6H1802.5V303.3H1799.5V306.7H1796.5V311.1H1793.5V312.3H1790.5V313.5H1787.4V316.9H1784.4V318.3H1781.4V320.4H1778.4V321.2H1775.4V329.8H1772.3V325.2H1769.3V330.6H1766.3V332.0H1763.3V332.2H1760.3V334.9H1757.2V337.8H1754.2V339.6H1751.2V342.4H1748.2V343.8H1745.2V344.5H1742.1V339.6H1739.1V347.4H1736.1V353.3H1733.1V356.5H1730.1V362.7H1727.0V368.0H1724.0V372.3H1721.0V375.5H1718.0V380.5H1715.0V382.8H1711.9V386.5H1708.9V388.8H1705.9V389.8H1702.9V392.9H1699.9V394.1H1696.8V399.0H1693.8V398.2H1690.8V402.9H1687.8V404.8H1684.8V406.0H1681.7V408.1H1678.7V408.9H1675.7V408.6H1672.7V408.8H1669.7V411.0H1666.6V408.9H1663.6V409.3H1660.6V411.5H1657.6V412.0H1654.6V411.9H1651.5V410.5H1648.5V410.4H1645.5V411.9H1642.5V411.1H1639.5V412.3H1636.4V408.9H1633.4V410.5H1630.4V411.7H1627.4V408.4H1624.4V407.8H1621.3V407.9H1618.3V406.8H1615.3V404.3H1612.3V404.7H1609.3V404.4H1606.2V402.9H1603.2V400.9H1600.2V400.0H1597.2V401.8H1594.2V397.8H1591.1V393.7H1588.1V393.4H1585.1V392.0H1582.1V391.5H1579.1V391.4H1576.0V390.7H1573.0V394.5H1570.0V388.3H1567.0V387.0H1564.0V385.4H1560.9V387.5H1557.9V389.6H1554.9V382.9H1551.9V382.2H1548.9V380.1H1545.8V380.1H1542.8V379.5H1539.8V376.4H1536.8V376.2H1533.8V378.2H1530.7V375.4H1527.7V373.1H1524.7V372.1H1521.7V374.1H1518.7V370.0H1515.6V367.9H1512.6V366.5H1509.6V364.4H1506.6V363.5H1503.6V359.1H1500.5V358.0H1497.5V356.8H1494.5V354.3H1491.5V355.1H1488.5V353.2H1485.4V351.9H1482.4V349.3H1479.4V346.6H1476.4V344.2H1473.4V342.6H1470.3V342.0H1467.3V340.3H1464.3V337.1H1461.3V336.7H1458.3V335.1H1455.2V329.2H1452.2V326.2H1449.2V324.9H1446.2V320.9H1443.2V321.6H1440.1V317.9H1437.1V315.8H1434.1V315.7H1431.1V317.9H1428.1V314.1H1425.0V308.5H1422.0V308.1H1419.0V304.0H1416.0V300.9H1413.0V300.2H1409.9V297.6H1406.9V297.2H1403.9V294.0H1400.9V291.4H1397.9V288.2H1394.8V286.1H1391.8V281.2H1388.8V278.7H1385.8V276.1H1382.8V279.0H1379.7V285.5H1376.7V284.8H1373.7V280.3H1370.7V272.1H1367.7V263.3H1364.6V258.8H1361.6V255.4H1358.6V248.9H1355.6V245.0H1352.6V240.6H1349.5V236.9H1346.5V239.9H1343.5V234.3H1340.5V228.9H1337.5V227.3H1334.4V226.2H1331.4V220.8H1328.4V220.5H1325.4V213.3H1322.4V212.2H1319.3V215.9H1316.3V209.5H1313.3V207.6H1310.3V206.5H1307.3V206.6H1304.2V207.2H1301.2V207.5H1298.2V206.2H1295.2V207.5H1292.2V205.1H1289.1V203.9H1286.1V204.2H1283.1V204.8H1280.1V206.0H1277.1V205.7H1274.0V206.2H1271.0V206.4H1268.0V207.1H1265.0V209.5H1262.0V211.2H1258.9V208.0H1255.9V209.5H1252.9V210.2H1249.9V211.6H1246.9V211.8H1243.8V214.4H1240.8V214.9H1237.8V216.6H1234.8V218.2H1231.8V219.4H1228.7V220.9H1225.7V222.1H1222.7V222.5H1219.7V224.2H1216.7V224.3H1213.6V224.3H1210.6V225.4H1207.6V229.0H1204.6V228.5H1201.6V227.2H1198.5V228.4H1195.5V229.6H1192.5V232.1H1189.5V233.4H1186.5V233.1H1183.4V235.6H1180.4V234.1H1177.4V235.6H1174.4V238.5H1171.4V236.8H1168.3V240.0H1165.3V240.0H1162.3V244.1H1159.3V245.1H1156.3V248.2H1153.2V249.1H1150.2V251.9H1147.2V253.4H1144.2V254.3H1141.2V256.1H1138.1V257.8H1135.1V260.9H1132.1V261.6H1129.1V264.1H1126.1V266.3H1123.0V268.3H1120.0V271.1H1117.0V270.9H1114.0V273.0H1111.0V274.9H1107.9V278.6H1104.9V279.8H1101.9V281.1H1098.9V284.7H1095.9V285.5H1092.8V290.0H1089.8V290.4H1086.8V291.4H1083.8V292.8H1080.8V295.5H1077.7V296.8H1074.7V298.9H1071.7V303.2H1068.7V305.8H1065.7V311.0H1062.6V310.9H1059.6V313.1H1056.6V316.5H1053.6V317.7H1050.6V321.1H1047.5V322.1H1044.5V326.1H1041.5V327.1H1038.5V328.8H1035.5V330.4H1032.4V338.3H1029.4V335.3H1026.4V337.0H1023.4V339.5H1020.4V343.9H1017.3V344.0H1014.3V344.5H1011.3V346.8H1008.3V348.2H1005.3V353.9H1002.2V356.5H999.2V362.6H996.2V367.4H993.2V370.6H990.2V375.2H987.1V379.7H984.1V381.8H981.1V385.4H978.1V388.8H975.1V390.4H972.0V391.0H969.0V397.8H966.0V396.9H963.0V399.8H960.0V401.2H956.9V405.8H953.9V406.6H950.9V407.5H947.9V410.3H944.9V411.1H941.8V410.8H938.8V412.0H935.8V412.0H932.8V412.6H929.8V415.0H926.7V409.8H923.7V411.0H920.7V410.4H917.7V412.9H914.7V412.8H911.6V411.1H908.6V409.6H905.6V410.9H902.6V410.2H899.6V411.5H896.5V409.7H893.5V408.5H890.5V407.1H887.5V406.5H884.5V406.7H881.4V406.6H878.4V404.9H875.4V403.7H872.4V400.2H869.4V399.6H866.3V398.2H863.3V396.2H860.3V395.6H857.3V395.0H854.3V393.7H851.2V393.7H848.2V392.6H845.2V390.9H842.2V390.2H839.2V389.6H836.1V388.4H833.1V386.9H830.1V385.3H827.1V386.4H824.1V382.3H821.0V381.1H818.0V380.6H815.0V378.3H812.0V379.5H809.0V376.2H805.9V376.2H802.9V376.2H799.9V373.2H796.9V373.3H793.9V371.7H790.8V371.3H787.8V371.5H784.8V374.1H781.8V367.4H778.8V365.0H775.7V367.3H772.7V361.4H769.7V364.0H766.7V358.2H763.7V357.8H760.6V355.1H757.6V352.6H754.6V348.9H751.6V346.8H748.6V344.8H745.5V346.9H742.5V344.1H739.5V342.2H736.5V338.0H733.5V336.4H730.4V334.9H727.4V332.2H724.4V330.0H721.4V326.6H718.4V324.5H715.3V324.3H712.3V323.0H709.3V319.0H706.3V316.3H703.3V315.1H700.2V312.0H697.2V311.2H694.2V307.0H691.2V305.4H688.2V301.6H685.1V297.9H682.1V295.6H679.1V293.4H676.1V290.5H673.1V288.4H670.0V288.8H667.0V284.2H664.0V283.2H661.0V282.3H658.0V280.0H654.9V276.3H651.9V277.3H648.9V282.4H645.9V283.7H642.9V277.0H639.8V269.6H636.8V264.1H633.8V257.7H630.8V252.8H627.8V247.6H624.7V244.9H621.7V240.3H618.7V236.2H615.7V234.2H612.7V231.0H609.6V228.5H606.6V223.5H603.6V219.7H600.6V217.6H597.6V215.7H594.5V215.2H591.5V213.4H588.5V211.4H585.5V208.0H582.5V208.0H579.4V207.3H576.4V206.4H573.4V206.6H570.4V205.4H567.4V205.5H564.3V207.7H561.3V206.1H558.3V208.2H555.3V205.1H552.3V206.9H549.2V206.2H546.2V205.4H543.2V205.0H540.2V207.6H537.2V206.6H534.1V207.5H531.1V207.2H528.1V208.5H525.1V211.4H522.1V211.9H519.0V212.1H516.0V211.3H513.0V212.1H510.0V215.1H507.0V217.0H503.9V217.9H500.9V218.9H497.9V219.9H494.9V219.5H491.9V223.1H488.8V221.7H485.8V222.9H482.8V223.1H479.8V225.2H476.8V225.1H473.7V225.9H470.7V226.3H467.7V228.0H464.7V229.7H461.7V230.4H458.6V233.2H455.6V231.6H452.6V234.1H449.6V239.6H446.6V238.1H443.5V237.3H440.5V240.2H437.5V246.4H434.5V246.6H431.5V242.9H428.4V246.0H425.4V248.3H422.4V247.7H419.4V249.4H416.4V250.4H413.3V252.1H410.3V254.9H407.3V256.1H404.3V257.9H401.3V261.3H398.2V261.7H395.2V262.9H392.2V264.5H389.2V265.5H386.2V269.6H383.1V269.8H380.1V273.6H377.1V275.4H374.1V279.6H371.1V281.3H368.0V286.2H365.0V286.6H362.0V292.1H359.0V291.2H356.0V294.0H352.9V295.5H349.9V298.8H346.9V304.1H343.9V304.0H340.9V305.1H337.8V307.2H334.8V311.9H331.8V314.5H328.8V315.8H325.8V317.5H322.7V323.7H319.7V321.0H316.7V324.3H313.7V326.6H310.7V328.6H307.6V330.1H304.6V332.4H301.6V335.2H298.6V336.4H295.6V340.1H292.5V342.8H289.5V342.5H286.5V347.1H283.5V343.9H280.5V342.6H277.4V352.0H274.4V354.2H271.4V359.8H268.4V364.8H265.4V371.0H262.3V373.9H259.3V376.5H256.3V379.7H253.3V382.2H250.3V384.1H247.2V388.7H244.2V393.2H241.2V394.2H238.2V396.2H235.2V400.8H232.1V402.8H229.1V405.3H226.1V410.9H223.1V408.6H220.1V409.5H217.0V409.3H214.0V411.2H211.0V410.1H208.0V411.7H205.0V412.8H201.9V411.8H198.9V411.7H195.9V411.1H192.9V411.1H189.9V411.3H186.8V411.6H183.8V409.4H180.8V416.6H177.8V411.6H174.8V410.8H171.7V409.2H168.7V409.5H165.7V407.3H162.7V406.9H159.7V406.2H156.6V404.9H153.6V403.4H150.6V401.8H147.6V400.6H144.6V405.0H141.5V398.3H138.5V396.5H135.5V396.5H132.5V395.7H129.5V395.6H126.4V394.8H123.4V392.6H120.4V391.3H117.4V391.2H114.4V388.2H111.3V386.7H108.3V385.3H105.3V386.0H102.3V384.4H99.3V382.8H96.2V381.8H93.2V382.2H90.2V379.7H87.2V380.3H84.2V378.3H81.1V377.5H78.1V374.9H75.1V375.8H72.1V374.1H69.1V374.4H66.0V372.6H63.0V374.5H60.0Z" fill="#f58220"/>
<path d="M60.0 525.2V525.2H63.0V527.2H66.0V525.3H69.1V524.6H72.1V523.4H75.1V523.5H78.1V522.2H81.1V522.7H84.2V523.6H87.2V523.8H90.2V523.8H93.2V523.6H96.2V522.7H99.3V522.0H102.3V524.2H105.3V526.1H108.3V526.4H111.3V529.7H114.4V529.4H117.4V530.8H120.4V531.0H123.4V534.7H126.4V535.8H129.5V535.8H132.5V540.9H135.5V543.8H138.5V547.1H141.5V549.6H144.6V552.2H147.6V557.2H150.6V560.8H153.6V567.2H156.6V570.7H159.7V575.9H162.7V578.0H165.7V579.1H168.7V579.1H171.7V579.9H174.8V579.6H177.8V577.7H180.8V579.0H183.8V580.7H186.8V582.7H189.9V583.3H192.9V585.0H195.9V584.8H198.9V585.0H201.9V586.7H205.0V586.0H208.0V589.3H211.0V590.5H214.0V593.0H217.0V592.5H220.1V596.2H223.1V597.2H226.1V598.9H229.1V599.0H232.1V598.5H235.2V599.4H238.2V602.1H241.2V603.4H244.2V604.0H247.2V599.2H250.3V604.8H253.3V604.3H256.3V605.8H259.3V609.0H262.3V611.6H265.4V615.0H268.4V615.6H271.4V615.3H274.4V619.0H277.4V618.5H280.5V620.2H283.5V620.6H286.5V621.3H289.5V621.3H292.5V622.1H295.6V622.5H298.6V622.4H301.6V625.5H304.6V626.9H307.6V627.6H310.7V627.4H313.7V628.6H316.7V629.8H319.7V628.2H322.7V631.8H325.8V631.3H328.8V631.3H331.8V632.0H334.8V632.3H337.8V633.7H340.9V635.3H343.9V634.3H346.9V635.7H349.9V636.7H352.9V635.8H356.0V637.0H359.0V635.6H362.0V636.7H365.0V636.8H368.0V638.9H371.1V640.9H374.1V641.9H377.1V643.1H380.1V635.3H383.1V640.5H386.2V640.5H389.2V640.3H392.2V642.2H395.2V640.4H398.2V642.3H401.3V643.9H404.3V643.5H407.3V640.9H410.3V647.0H413.3V646.4H416.4V647.4H419.4V649.3H422.4V650.0H425.4V650.3H428.4V653.1H431.5V654.7H434.5V653.3H437.5V654.4H440.5V651.6H443.5V655.7H446.6V657.5H449.6V657.3H452.6V658.0H455.6V658.0H458.6V655.0H461.7V655.2H464.7V653.6H467.7V651.6H470.7V651.0H473.7V649.7H476.8V647.1H479.8V645.2H482.8V641.4H485.8V640.8H488.8V640.7H491.9V640.0H494.9V637.4H497.9V634.4H500.9V632.0H503.9V628.4H507.0V625.7H510.0V620.7H513.0V616.8H516.0V611.0H519.0V607.8H522.1V605.0H525.1V596.9H528.1V600.8H531.1V602.5H534.1V601.8H537.2V599.3H540.2V596.6H543.2V589.1H546.2V591.8H549.2V594.8H552.3V596.2H555.3V596.8H558.3V594.3H561.3V593.6H564.3V590.8H567.4V591.2H570.4V584.2H573.4V585.7H576.4V581.9H579.4V583.6H582.5V581.2H585.5V580.2H588.5V577.7H591.5V578.2H594.5V577.6H597.6V574.8H600.6V576.5H603.6V573.2H606.6V571.7H609.6V572.5H612.7V572.1H615.7V571.1H618.7V568.9H621.7V566.9H624.7V567.4H627.8V567.7H630.8V567.2H633.8V565.5H636.8V562.6H639.8V561.7H642.9V560.0H645.9V555.8H648.9V556.9H651.9V557.5H654.9V557.2H658.0V554.7H661.0V553.3H664.0V552.4H667.0V552.3H670.0V552.5H673.1V550.6H676.1V549.2H679.1V550.1H682.1V549.7H685.1V547.1H688.2V546.6H691.2V547.8H694.2V545.7H697.2V543.6H700.2V545.8H703.3V546.1H706.3V545.7H709.3V545.2H712.3V542.5H715.3V544.8H718.4V545.0H721.4V544.2H724.4V544.7H727.4V542.4H730.4V542.2H733.5V537.6H736.5V540.5H739.5V539.6H742.5V539.5H745.5V534.9H748.6V532.9H751.6V531.1H754.6V535.4H757.6V533.7H760.6V531.9H763.7V532.5H766.7V527.5H769.7V531.1H772.7V529.2H775.7V530.5H778.8V528.6H781.8V525.7H784.8V524.4H787.8V525.1H790.8V525.1H793.9V520.9H796.9V524.8H799.9V523.7H802.9V519.2H805.9V521.6H809.0V522.3H812.0V520.9H815.0V521.7H818.0V520.4H821.0V520.6H824.1V521.5H827.1V519.6H830.1V522.1H833.1V523.3H836.1V525.0H839.2V526.9H842.2V528.7H845.2V529.6H848.2V530.6H851.2V530.0H854.3V532.6H857.3V532.8H860.3V534.8H863.3V538.5H866.3V542.7H869.4V545.7H872.4V548.9H875.4V552.9H878.4V556.2H881.4V557.6H884.5V562.0H887.5V568.9H890.5V575.3H893.5V575.5H896.5V575.0H899.6V574.6H902.6V574.7H905.6V574.4H908.6V574.7H911.6V578.5H914.7V580.2H917.7V581.2H920.7V580.9H923.7V582.4H926.7V583.0H929.8V586.5H932.8V587.9H935.8V589.0H938.8V588.9H941.8V591.3H944.9V592.0H947.9V591.3H950.9V594.4H953.9V596.2H956.9V597.7H960.0V598.9H963.0V600.4H966.0V602.0H969.0V601.7H972.0V601.7H975.1V604.7H978.1V604.5H981.1V607.6H984.1V610.5H987.1V610.1H990.2V612.9H993.2V610.7H996.2V614.4H999.2V613.0H1002.2V615.8H1005.3V616.5H1008.3V617.0H1011.3V619.0H1014.3V619.2H1017.3V618.3H1020.4V621.5H1023.4V623.8H1026.4V625.1H1029.4V624.9H1032.4V625.6H1035.5V621.7H1038.5V626.0H1041.5V626.2H1044.5V628.4H1047.5V628.6H1050.6V629.9H1053.6V630.4H1056.6V629.3H1059.6V629.6H1062.6V630.6H1065.7V632.9H1068.7V632.9H1071.7V633.7H1074.7V633.9H1077.7V633.0H1080.8V634.7H1083.8V635.9H1086.8V636.7H1089.8V636.9H1092.8V636.6H1095.9V638.3H1098.9V637.7H1101.9V638.8H1104.9V638.3H1107.9V640.2H1111.0V639.3H1114.0V636.2H1117.0V640.8H1120.0V642.1H1123.0V643.0H1126.1V642.0H1129.1V643.8H1132.1V643.8H1135.1V646.2H1138.1V648.0H1141.2V650.4H1144.2V652.8H1147.2V649.6H1150.2V651.9H1153.2V652.9H1156.3V653.5H1159.3V654.4H1162.3V656.5H1165.3V656.1H1168.3V657.0H1171.4V657.3H1174.4V657.1H1177.4V660.1H1180.4V659.6H1183.4V660.3H1186.5V657.9H1189.5V659.7H1192.5V657.6H1195.5V656.2H1198.5V656.4H1201.6V655.5H1204.6V654.5H1207.6V652.2H1210.6V645.5H1213.6V645.8H1216.7V641.6H1219.7V635.6H1222.7V641.1H1225.7V636.3H1228.7V633.3H1231.8V631.5H1234.8V628.2H1237.8V625.2H1240.8V622.5H1243.8V618.4H1246.9V612.2H1249.9V606.1H1252.9V600.6H1255.9V600.5H1258.9V601.8H1262.0V605.1H1265.0V599.4H1268.0V591.1H1271.0V589.7H1274.0V589.4H1277.1V591.9H1280.1V596.8H1283.1V593.5H1286.1V592.1H1289.1V587.3H1292.2V588.9H1295.2V586.9H1298.2V587.1H1301.2V587.2H1304.2V586.0H1307.3V584.0H1310.3V583.5H1313.3V581.2H1316.3V575.1H1319.3V576.5H1322.4V576.5H1325.4V577.9H1328.4V576.5H1331.4V571.5H1334.4V574.2H1337.5V573.6H1340.5V571.9H1343.5V568.5H1346.5V568.9H1349.5V567.3H1352.6V568.6H1355.6V566.1H1358.6V566.1H1361.6V563.4H1364.6V562.3H1367.7V561.3H1370.7V561.2H1373.7V560.0H1376.7V559.6H1379.7V559.6H1382.8V559.4H1385.8V555.2H1388.8V557.4H1391.8V554.6H1394.8V551.7H1397.9V549.8H1400.9V550.0H1403.9V548.8H1406.9V545.5H1409.9V550.3H1413.0V550.7H1416.0V550.5H1419.0V550.0H1422.0V548.7H1425.0V548.4H1428.1V548.5H1431.1V541.0H1434.1V546.1H1437.1V546.0H1440.1V545.0H1443.2V544.9H1446.2V543.3H1449.2V544.5H1452.2V542.9H1455.2V544.6H1458.3V542.4H1461.3V541.9H1464.3V540.1H1467.3V538.2H1470.3V540.7H1473.4V538.7H1476.4V537.6H1479.4V536.4H1482.4V537.3H1485.4V536.8H1488.5V536.6H1491.5V533.9H1494.5V531.4H1497.5V531.7H1500.5V531.2H1503.6V529.5H1506.6V528.5H1509.6V526.1H1512.6V522.0H1515.6V527.3H1518.7V526.4H1521.7V521.4H1524.7V524.5H1527.7V520.8H1530.7V523.8H1533.8V523.9H1536.8V522.5H1539.8V517.7H1542.8V517.8H1545.8V521.1H1548.9V522.0H1551.9V522.3H1554.9V521.0H1557.9V521.5H1560.9V517.9H1564.0V522.8H1567.0V522.3H1570.0V526.4H1573.0V527.1H1576.0V529.0H1579.1V530.5H1582.1V531.5H1585.1V534.9H1588.1V538.7H1591.1V540.2H1594.2V541.2H1597.2V543.9H1600.2V547.7H1603.2V549.4H1606.2V555.3H1609.3V559.1H1612.3V562.1H1615.3V567.3H1618.3V571.8H1621.3V572.1H1624.4V573.5H1627.4V574.1H1630.4V575.7H1633.4V576.3H1636.4V578.8H1639.5V580.7H1642.5V582.1H1645.5V581.6H1648.5V583.4H1651.5V579.6H1654.6V584.3H1657.6V580.2H1660.6V586.9H1663.6V588.0H1666.6V589.2H1669.7V589.5H1672.7V593.8H1675.7V595.5H1678.7V595.4H1681.7V596.0H1684.8V596.7H1687.8V596.6H1690.8V599.4H1693.8V601.2H1696.8V602.4H1699.9V603.3H1702.9V605.8H1705.9V606.8H1708.9V606.8H1711.9V605.7H1715.0V607.9H1718.0V610.0H1721.0V612.6H1724.0V614.8H1727.0V610.8H1730.1V617.0H1733.1V617.9H1736.1V618.5H1739.1V610.3H1742.1V619.8H1745.2V620.9H1748.2V616.1H1751.2V622.3H1754.2V622.9H1757.2V623.7H1760.3V622.4H1763.3V625.4H1766.3V624.5H1769.3V623.4H1772.3V624.0H1775.4V627.9H1778.4V630.7H1781.4V630.9H1784.4V629.0H1787.4V630.1H1790.5V630.7H1793.5V630.9H1796.5V633.6H1799.5V630.4H1802.5V635.3H1805.6V636.7H1808.6V636.7H1811.6V636.4H1814.6V634.3H1817.6V639.4H1820.7V637.9H1823.7V639.2H1826.7V638.8H1829.7V638.9H1832.7V640.1H1835.8V640.7H1838.8V641.6H1841.8V638.7H1844.8V641.5H1847.8V642.1H1850.9V642.0H1853.9V644.3H1856.9V643.7H1859.9V642.2H1862.9V643.0H1866.0V646.1H1869.0V647.8H1872.0V648.7H1875.0V648.9H1878.0V650.1H1881.1V650.2H1884.1V651.2H1884.6V660.9H1884.1V662.4H1881.1V658.5H1878.0V659.0H1875.0V657.7H1872.0V657.2H1869.0V654.4H1866.0V652.5H1862.9V654.6H1859.9V651.6H1856.9V652.7H1853.9V651.5H1850.9V652.1H1847.8V650.4H1844.8V649.8H1841.8V650.3H1838.8V649.1H1835.8V648.5H1832.7V648.4H1829.7V646.6H1826.7V650.9H1823.7V647.2H1820.7V647.5H1817.6V644.7H1814.6V645.2H1811.6V644.8H1808.6V647.2H1805.6V643.1H1802.5V644.0H1799.5V642.0H1796.5V642.0H1793.5V639.6H1790.5V641.2H1787.4V638.9H1784.4V639.1H1781.4V638.8H1778.4V639.1H1775.4V636.1H1772.3V632.3H1769.3V632.2H1766.3V633.3H1763.3V633.1H1760.3V631.0H1757.2V631.9H1754.2V630.7H1751.2V629.7H1748.2V632.8H1745.2V628.5H1742.1V628.4H1739.1V627.8H1736.1V626.4H1733.1V625.5H1730.1V626.5H1727.0V625.2H1724.0V623.1H1721.0V620.7H1718.0V619.2H1715.0V616.2H1711.9V615.4H1708.9V615.3H1705.9V613.4H1702.9V615.9H1699.9V611.7H1696.8V609.8H1693.8V607.8H1690.8V606.8H1687.8V605.3H1684.8V604.4H1681.7V604.6H1678.7V605.5H1675.7V604.1H1672.7V600.8H1669.7V599.4H1666.6V597.8H1663.6V595.9H1660.6V597.2H1657.6V594.0H1654.6V591.1H1651.5V591.1H1648.5V590.2H1645.5V590.5H1642.5V588.7H1639.5V587.6H1636.4V586.0H1633.4V585.2H1630.4V583.3H1627.4V581.9H1624.4V582.0H1621.3V582.0H1618.3V580.0H1615.3V574.8H1612.3V570.9H1609.3V567.5H1606.2V564.1H1603.2V561.9H1600.2V555.6H1597.2V551.0H1594.2V549.6H1591.1V547.8H1588.1V546.0H1585.1V543.3H1582.1V541.2H1579.1V540.7H1576.0V538.9H1573.0V536.1H1570.0V533.8H1567.0V532.8H1564.0V532.5H1560.9V529.7H1557.9V530.6H1554.9V529.4H1551.9V530.2H1548.9V529.2H1545.8V530.7H1542.8V528.7H1539.8V536.8H1536.8V531.3H1533.8V532.7H1530.7V534.6H1527.7V533.6H1524.7V535.7H1521.7V534.7H1518.7V535.4H1515.6V535.8H1512.6V537.4H1509.6V538.4H1506.6V540.4H1503.6V540.0H1500.5V539.6H1497.5V542.5H1494.5V545.4H1491.5V546.4H1488.5V546.1H1485.4V544.0H1482.4V545.5H1479.4V546.8H1476.4V548.3H1473.4V549.3H1470.3V550.7H1467.3V550.9H1464.3V552.0H1461.3V553.4H1458.3V553.7H1455.2V551.5H1452.2V554.6H1449.2V552.3H1446.2V552.7H1443.2V552.5H1440.1V553.0H1437.1V554.6H1434.1V557.2H1431.1V555.2H1428.1V556.8H1425.0V556.2H1422.0V560.6H1419.0V558.9H1416.0V559.4H1413.0V557.5H1409.9V557.7H1406.9V558.3H1403.9V557.9H1400.9V561.5H1397.9V562.0H1394.8V565.4H1391.8V565.8H1388.8V567.7H1385.8V569.8H1382.8V570.7H1379.7V569.2H1376.7V570.3H1373.7V570.0H1370.7V571.6H1367.7V572.9H1364.6V574.6H1361.6V575.8H1358.6V576.4H1355.6V578.5H1352.6V577.2H1349.5V577.7H1346.5V580.2H1343.5V581.7H1340.5V582.4H1337.5V584.1H1334.4V583.6H1331.4V585.1H1328.4V585.0H1325.4V589.1H1322.4V587.0H1319.3V589.8H1316.3V591.4H1313.3V593.2H1310.3V594.5H1307.3V595.8H1304.2V596.7H1301.2V600.8H1298.2V595.4H1295.2V599.8H1292.2V600.6H1289.1V605.7H1286.1V607.2H1283.1V609.9H1280.1V606.5H1277.1V606.3H1274.0V602.0H1271.0V609.8H1268.0V617.1H1265.0V616.0H1262.0V614.0H1258.9V610.4H1255.9V615.0H1252.9V620.3H1249.9V626.6H1246.9V630.5H1243.8V633.6H1240.8V637.3H1237.8V643.0H1234.8V643.7H1231.8V645.9H1228.7V649.3H1225.7V651.2H1222.7V654.4H1219.7V653.7H1216.7V655.9H1213.6V660.2H1210.6V661.3H1207.6V663.8H1204.6V665.4H1201.6V666.1H1198.5V665.0H1195.5V667.6H1192.5V666.2H1189.5V667.1H1186.5V667.2H1183.4V666.3H1180.4V667.2H1177.4V665.5H1174.4V664.9H1171.4V665.2H1168.3V664.5H1165.3V664.0H1162.3V662.4H1159.3V661.3H1156.3V660.7H1153.2V659.7H1150.2V663.1H1147.2V660.6H1144.2V659.4H1141.2V659.1H1138.1V655.4H1135.1V656.7H1132.1V654.4H1129.1V651.8H1126.1V652.6H1123.0V652.5H1120.0V650.9H1117.0V649.6H1114.0V649.5H1111.0V650.6H1107.9V647.7H1104.9V650.7H1101.9V646.4H1098.9V647.2H1095.9V646.7H1092.8V646.7H1089.8V646.1H1086.8V644.3H1083.8V642.9H1080.8V643.2H1077.7V643.1H1074.7V641.1H1071.7V641.0H1068.7V641.3H1065.7V639.7H1062.6V638.8H1059.6V637.7H1056.6V639.1H1053.6V637.4H1050.6V639.4H1047.5V636.8H1044.5V639.9H1041.5V636.5H1038.5V635.5H1035.5V632.6H1032.4V633.2H1029.4V633.1H1026.4V631.8H1023.4V631.3H1020.4V629.9H1017.3V630.3H1014.3V627.5H1011.3V626.1H1008.3V626.6H1005.3V624.2H1002.2V623.9H999.2V622.5H996.2V621.5H993.2V622.2H990.2V621.4H987.1V619.1H984.1V618.8H981.1V615.5H978.1V613.4H975.1V613.8H972.0V616.4H969.0V610.2H966.0V609.3H963.0V609.6H960.0V606.2H956.9V605.2H953.9V605.1H950.9V605.1H947.9V600.6H944.9V600.9H941.8V599.3H938.8V598.4H935.8V596.7H932.8V595.9H929.8V594.3H926.7V594.3H923.7V590.4H920.7V591.1H917.7V592.7H914.7V587.8H911.6V584.2H908.6V583.2H905.6V583.0H902.6V582.8H899.6V583.0H896.5V586.5H893.5V588.0H890.5V583.2H887.5V580.0H884.5V573.0H881.4V568.2H878.4V563.7H875.4V560.3H872.4V556.9H869.4V553.9H866.3V552.4H863.3V547.3H860.3V543.5H857.3V547.7H854.3V539.8H851.2V539.5H848.2V538.7H845.2V538.8H842.2V537.1H839.2V534.6H836.1V532.3H833.1V531.8H830.1V528.9H827.1V528.2H824.1V528.6H821.0V529.2H818.0V529.8H815.0V531.5H812.0V531.7H809.0V531.8H805.9V532.8H802.9V532.2H799.9V533.8H796.9V533.8H793.9V534.6H790.8V535.0H787.8V534.2H784.8V536.3H781.8V537.1H778.8V538.5H775.7V538.5H772.7V538.6H769.7V539.1H766.7V542.9H763.7V540.7H760.6V542.9H757.6V543.2H754.6V544.9H751.6V546.1H748.6V547.8H745.5V551.9H742.5V548.5H739.5V549.0H736.5V551.7H733.5V551.2H730.4V552.9H727.4V552.6H724.4V552.6H721.4V554.9H718.4V553.3H715.3V553.5H712.3V554.1H709.3V554.2H706.3V553.0H703.3V555.9H700.2V555.0H697.2V556.7H694.2V558.4H691.2V555.1H688.2V556.8H685.1V557.5H682.1V559.1H679.1V558.7H676.1V559.7H673.1V560.1H670.0V562.1H667.0V562.9H664.0V563.1H661.0V564.8H658.0V566.5H654.9V567.1H651.9V570.9H648.9V569.3H645.9V572.0H642.9V569.9H639.8V573.0H636.8V573.2H633.8V580.6H630.8V576.9H627.8V577.0H624.7V578.0H621.7V581.5H618.7V578.9H615.7V580.2H612.7V581.5H609.6V583.9H606.6V585.3H603.6V585.6H600.6V586.3H597.6V586.1H594.5V586.6H591.5V587.3H588.5V590.0H585.5V590.2H582.5V593.0H579.4V593.1H576.4V594.8H573.4V595.9H570.4V600.6H567.4V603.5H564.3V604.6H561.3V605.5H558.3V609.2H555.3V609.1H552.3V609.2H549.2V607.1H546.2V604.8H543.2V607.9H540.2V611.1H537.2V608.9H534.1V610.5H531.1V610.7H528.1V615.2H525.1V617.9H522.1V623.3H519.0V626.1H516.0V629.5H513.0V634.1H510.0V638.9H507.0V640.3H503.9V642.6H500.9V646.4H497.9V649.0H494.9V651.9H491.9V650.2H488.8V649.9H485.8V652.7H482.8V654.6H479.8V658.1H476.8V658.7H473.7V663.3H470.7V661.9H467.7V665.2H464.7V668.3H461.7V665.8H458.6V667.5H455.6V666.0H452.6V664.5H449.6V665.1H446.6V664.7H443.5V667.1H440.5V664.7H437.5V663.9H434.5V663.1H431.5V661.2H428.4V661.0H425.4V658.9H422.4V657.0H419.4V658.8H416.4V657.6H413.3V655.9H410.3V654.8H407.3V654.2H404.3V651.7H401.3V656.7H398.2V653.1H395.2V650.1H392.2V649.3H389.2V649.4H386.2V649.6H383.1V650.4H380.1V652.7H377.1V649.4H374.1V648.8H371.1V645.9H368.0V646.0H365.0V647.0H362.0V644.7H359.0V644.2H356.0V644.0H352.9V648.5H349.9V643.6H346.9V643.2H343.9V641.9H340.9V642.3H337.8V644.7H334.8V641.0H331.8V641.1H328.8V643.3H325.8V641.8H322.7V640.1H319.7V637.8H316.7V636.3H313.7V635.1H310.7V636.6H307.6V637.4H304.6V634.1H301.6V631.8H298.6V630.2H295.6V629.8H292.5V628.6H289.5V628.5H286.5V628.5H283.5V629.0H280.5V628.0H277.4V628.3H274.4V625.8H271.4V627.3H268.4V623.8H265.4V621.6H262.3V620.2H259.3V618.3H256.3V621.0H253.3V613.3H250.3V613.7H247.2V612.8H244.2V614.4H241.2V610.0H238.2V610.1H235.2V610.1H232.1V611.3H229.1V606.9H226.1V606.9H223.1V604.9H220.1V603.0H217.0V602.3H214.0V601.0H211.0V599.4H208.0V598.9H205.0V598.2H201.9V596.1H198.9V594.2H195.9V594.7H192.9V595.0H189.9V592.0H186.8V589.1H183.8V587.3H180.8V588.1H177.8V589.4H174.8V587.8H171.7V586.4H168.7V589.0H165.7V587.6H162.7V585.9H159.7V582.1H156.6V579.2H153.6V576.2H150.6V574.9H147.6V563.3H144.6V569.4H141.5V558.3H138.5V556.2H135.5V553.9H132.5V549.9H129.5V548.5H126.4V543.4H123.4V545.6H120.4V541.3H117.4V539.4H114.4V538.6H111.3V536.8H108.3V534.7H105.3V533.8H102.3V530.5H99.3V529.6H96.2V535.3H93.2V532.1H90.2V534.5H87.2V536.2H84.2V531.9H81.1V532.8H78.1V531.6H75.1V532.0H72.1V532.9H69.1V533.0H66.0V535.1H63.0V534.7H60.0Z" fill="#c241a8"/>
<path d="M60.0 896.2V896.2H63.0V893.3H66.0V892.0H69.1V893.1H72.1V890.4H75.1V886.2H78.1V883.0H81.1V883.6H84.2V883.2H87.2V882.0H90.2V881.5H93.2V882.2H96.2V880.5H99.3V879.9H102.3V876.7H105.3V876.7H108.3V877.4H111.3V875.1H114.4V874.4H117.4V872.4H120.4V871.5H123.4V870.3H126.4V868.7H129.5V865.4H132.5V865.3H135.5V865.8H138.5V864.6H141.5V862.7H144.6V862.4H147.6V862.7H150.6V860.5H153.6V859.0H156.6V857.5H159.7V856.0H162.7V854.4H165.7V854.3H168.7V853.1H171.7V853.3H174.8V853.4H177.8V851.5H180.8V850.8H183.8V848.7H186.8V849.5H189.9V849.0H192.9V845.6H195.9V848.1H198.9V846.2H201.9V846.7H205.0V846.4H208.0V846.4H211.0V846.5H214.0V845.7H217.0V846.5H220.1V845.7H223.1V844.5H226.1V840.7H229.1V841.8H232.1V840.8H235.2V841.6H238.2V839.8H241.2V842.5H244.2V841.8H247.2V840.2H250.3V839.3H253.3V838.3H256.3V836.8H259.3V836.2H262.3V835.2H265.4V836.6H268.4V834.6H271.4V834.1H274.4V834.0H277.4V833.7H280.5V829.5H283.5V828.9H286.5V827.6H289.5V825.8H292.5V822.6H295.6V822.3H298.6V825.0H301.6V824.3H304.6V821.6H307.6V823.2H310.7V822.4H313.7V822.8H316.7V818.2H319.7V822.4H322.7V818.2H325.8V821.2H328.8V820.5H331.8V822.9H334.8V822.9H337.8V823.0H340.9V822.4H343.9V825.3H346.9V825.4H349.9V826.8H352.9V825.8H356.0V829.5H359.0V829.0H362.0V828.5H365.0V832.1H368.0V837.2H371.1V838.6H374.1V840.8H377.1V844.9H380.1V847.6H383.1V851.1H386.2V853.7H389.2V858.7H392.2V862.3H395.2V866.2H398.2V869.0H401.3V869.4H404.3V873.9H407.3V876.0H410.3V873.1H413.3V877.8H416.4V877.8H419.4V876.7H422.4V881.1H425.4V882.3H428.4V882.8H431.5V884.4H434.5V885.4H437.5V887.2H440.5V886.6H443.5V886.2H446.6V889.3H449.6V891.8H452.6V894.6H455.6V896.0H458.6V897.1H461.7V897.2H464.7V898.2H467.7V900.3H470.7V900.6H473.7V900.6H476.8V901.3H479.8V901.9H482.8V903.3H485.8V906.6H488.8V903.6H491.9V907.7H494.9V909.3H497.9V912.5H500.9V907.2H503.9V913.7H507.0V915.9H510.0V910.5H513.0V915.6H516.0V917.4H519.0V916.8H522.1V919.9H525.1V919.5H528.1V921.4H531.1V922.1H534.1V924.1H537.2V920.5H540.2V925.0H543.2V925.9H546.2V927.1H549.2V927.5H552.3V929.1H555.3V929.2H558.3V927.9H561.3V929.4H564.3V931.6H567.4V931.4H570.4V932.2H573.4V931.0H576.4V930.7H579.4V932.8H582.5V932.6H585.5V932.4H588.5V931.1H591.5V935.0H594.5V935.3H597.6V933.4H600.6V936.1H603.6V933.9H606.6V935.6H609.6V933.7H612.7V934.9H615.7V933.9H618.7V936.6H621.7V938.4H624.7V939.2H627.8V941.3H630.8V941.5H633.8V942.9H636.8V946.1H639.8V944.6H642.9V946.4H645.9V947.6H648.9V949.5H651.9V948.7H654.9V947.7H658.0V950.2H661.0V950.6H664.0V950.3H667.0V951.1H670.0V952.6H673.1V954.7H676.1V955.5H679.1V954.8H682.1V955.7H685.1V955.8H688.2V955.3H691.2V956.8H694.2V956.9H697.2V958.0H700.2V956.8H703.3V956.1H706.3V953.0H709.3V952.7H712.3V950.5H715.3V948.5H718.4V947.8H721.4V945.8H724.4V942.9H727.4V942.3H730.4V941.3H733.5V928.6H736.5V933.8H739.5V931.8H742.5V926.6H745.5V928.6H748.6V925.5H751.6V919.6H754.6V914.7H757.6V910.1H760.6V906.8H763.7V902.5H766.7V902.0H769.7V901.3H772.7V903.3H775.7V900.4H778.8V899.0H781.8V897.7H784.8V898.2H787.8V898.2H790.8V893.7H793.9V892.3H796.9V893.3H799.9V891.9H802.9V889.2H805.9V886.4H809.0V886.6H812.0V884.3H815.0V882.3H818.0V881.2H821.0V881.4H824.1V881.5H827.1V880.4H830.1V879.4H833.1V880.2H836.1V879.3H839.2V878.2H842.2V875.1H845.2V872.2H848.2V870.9H851.2V867.7H854.3V868.0H857.3V865.9H860.3V865.5H863.3V864.4H866.3V862.6H869.4V862.3H872.4V860.5H875.4V860.1H878.4V860.4H881.4V859.9H884.5V856.1H887.5V854.4H890.5V854.7H893.5V855.2H896.5V852.5H899.6V852.9H902.6V852.2H905.6V852.6H908.6V850.8H911.6V851.2H914.7V852.6H917.7V847.5H920.7V848.5H923.7V847.8H926.7V846.4H929.8V848.0H932.8V844.5H935.8V845.6H938.8V844.0H941.8V842.9H944.9V843.1H947.9V844.5H950.9V841.7H953.9V845.0H956.9V843.6H960.0V844.0H963.0V843.1H966.0V842.3H969.0V842.3H972.0V842.6H975.1V841.5H978.1V839.5H981.1V836.8H984.1V837.1H987.1V838.6H990.2V838.2H993.2V835.5H996.2V835.5H999.2V833.4H1002.2V832.4H1005.3V832.0H1008.3V826.4H1011.3V828.1H1014.3V829.1H1017.3V827.5H1020.4V827.7H1023.4V826.9H1026.4V826.4H1029.4V824.7H1032.4V822.7H1035.5V821.9H1038.5V820.6H1041.5V821.7H1044.5V820.8H1047.5V822.4H1050.6V822.5H1053.6V820.7H1056.6V821.1H1059.6V821.5H1062.6V821.5H1065.7V819.6H1068.7V819.1H1071.7V821.6H1074.7V821.8H1077.7V823.6H1080.8V825.0H1083.8V824.6H1086.8V827.2H1089.8V828.6H1092.8V832.4H1095.9V833.0H1098.9V834.7H1101.9V835.7H1104.9V838.0H1107.9V842.3H1111.0V846.3H1114.0V852.2H1117.0V854.3H1120.0V862.4H1123.0V866.1H1126.1V869.7H1129.1V872.9H1132.1V871.7H1135.1V874.4H1138.1V873.8H1141.2V874.9H1144.2V878.3H1147.2V878.3H1150.2V878.3H1153.2V879.4H1156.3V881.2H1159.3V882.1H1162.3V883.0H1165.3V886.6H1168.3V887.8H1171.4V889.5H1174.4V888.7H1177.4V888.3H1180.4V892.7H1183.4V893.4H1186.5V895.8H1189.5V897.8H1192.5V897.4H1195.5V898.7H1198.5V900.5H1201.6V899.1H1204.6V901.3H1207.6V903.5H1210.6V904.6H1213.6V905.6H1216.7V907.5H1219.7V908.5H1222.7V910.5H1225.7V910.9H1228.7V913.5H1231.8V913.7H1234.8V914.9H1237.8V915.7H1240.8V913.7H1243.8V916.0H1246.9V917.6H1249.9V921.1H1252.9V920.5H1255.9V920.5H1258.9V918.6H1262.0V919.6H1265.0V921.5H1268.0V924.0H1271.0V925.7H1274.0V925.1H1277.1V928.1H1280.1V930.6H1283.1V932.2H1286.1V931.4H1289.1V930.9H1292.2V929.5H1295.2V932.1H1298.2V932.1H1301.2V933.9H1304.2V934.9H1307.3V933.6H1310.3V935.1H1313.3V935.3H1316.3V933.7H1319.3V934.8H1322.4V936.0H1325.4V936.1H1328.4V932.2H1331.4V933.2H1334.4V933.9H1337.5V933.4H1340.5V935.4H1343.5V931.9H1346.5V939.1H1349.5V940.2H1352.6V938.3H1355.6V940.7H1358.6V940.3H1361.6V942.4H1364.6V941.2H1367.7V941.7H1370.7V943.4H1373.7V944.9H1376.7V944.3H1379.7V947.9H1382.8V950.0H1385.8V950.3H1388.8V950.9H1391.8V951.5H1394.8V952.0H1397.9V951.7H1400.9V948.6H1403.9V952.4H1406.9V953.1H1409.9V951.9H1413.0V955.0H1416.0V955.2H1419.0V954.8H1422.0V955.7H1425.0V955.4H1428.1V956.1H1431.1V952.9H1434.1V946.4H1437.1V953.0H1440.1V952.1H1443.2V951.1H1446.2V949.0H1449.2V949.0H1452.2V944.8H1455.2V942.0H1458.3V942.3H1461.3V939.8H1464.3V937.4H1467.3V936.6H1470.3V934.3H1473.4V929.6H1476.4V925.8H1479.4V921.2H1482.4V917.2H1485.4V914.0H1488.5V908.4H1491.5V904.4H1494.5V901.4H1497.5V895.2H1500.5V895.5H1503.6V897.2H1506.6V902.9H1509.6V898.1H1512.6V898.5H1515.6V897.5H1518.7V897.4H1521.7V895.7H1524.7V895.3H1527.7V891.6H1530.7V889.6H1533.8V888.4H1536.8V886.5H1539.8V885.9H1542.8V884.5H1545.8V883.3H1548.9V882.1H1551.9V881.0H1554.9V880.5H1557.9V879.4H1560.9V876.4H1564.0V877.7H1567.0V877.4H1570.0V876.9H1573.0V875.6H1576.0V874.6H1579.1V872.5H1582.1V869.9H1585.1V868.8H1588.1V867.0H1591.1V866.6H1594.2V865.9H1597.2V864.4H1600.2V861.1H1603.2V861.8H1606.2V860.1H1609.3V860.9H1612.3V860.8H1615.3V858.7H1618.3V852.6H1621.3V855.0H1624.4V855.3H1627.4V849.9H1630.4V854.2H1633.4V854.9H1636.4V853.6H1639.5V851.7H1642.5V850.0H1645.5V845.4H1648.5V851.0H1651.5V848.1H1654.6V846.3H1657.6V845.3H1660.6V845.2H1663.6V845.7H1666.6V844.1H1669.7V844.5H1672.7V843.8H1675.7V842.1H1678.7V844.4H1681.7V844.8H1684.8V843.6H1687.8V841.8H1690.8V842.6H1693.8V842.0H1696.8V842.4H1699.9V843.5H1702.9V843.3H1705.9V838.9H1708.9V840.5H1711.9V837.4H1715.0V838.3H1718.0V836.0H1721.0V836.1H1724.0V832.6H1727.0V834.3H1730.1V834.4H1733.1V830.9H1736.1V828.0H1739.1V827.6H1742.1V828.3H1745.2V824.9H1748.2V820.5H1751.2V825.4H1754.2V825.1H1757.2V823.9H1760.3V820.0H1763.3V821.3H1766.3V820.6H1769.3V821.6H1772.3V821.9H1775.4V821.3H1778.4V820.3H1781.4V821.5H1784.4V823.0H1787.4V822.9H1790.5V822.6H1793.5V822.1H1796.5V820.8H1799.5V821.9H1802.5V822.7H1805.6V824.3H1808.6V825.7H1811.6V826.9H1814.6V828.2H1817.6V828.6H1820.7V825.5H1823.7V831.6H1826.7V833.8H1829.7V838.1H1832.7V843.0H1835.8V842.3H1838.8V846.8H1841.8V848.6H1844.8V851.5H1847.8V855.3H1850.9V859.4H1853.9V865.0H1856.9V868.0H1859.9V874.3H1862.9V874.1H1866.0V873.5H1869.0V872.6H1872.0V875.9H1875.0V876.4H1878.0V877.7H1881.1V880.0H1884.1V881.6H1884.6V893.3H1884.1V890.7H1881.1V890.7H1878.0V887.1H1875.0V886.9H1872.0V883.7H1869.0V882.7H1866.0V883.0H1862.9V884.2H1859.9V882.5H1856.9V877.6H1853.9V871.2H1850.9V868.0H1847.8V865.5H1844.8V863.6H1841.8V863.5H1838.8V855.4H1835.8V852.7H1832.7V849.2H1829.7V845.5H1826.7V842.5H1823.7V838.9H1820.7V837.6H1817.6V836.8H1814.6V836.8H1811.6V836.1H1808.6V833.5H1805.6V833.1H1802.5V830.4H1799.5V829.3H1796.5V828.9H1793.5V831.8H1790.5V831.0H1787.4V830.3H1784.4V829.3H1781.4V829.2H1778.4V830.3H1775.4V829.9H1772.3V833.7H1769.3V830.0H1766.3V829.7H1763.3V830.9H1760.3V833.7H1757.2V837.5H1754.2V833.3H1751.2V834.4H1748.2V835.6H1745.2V838.9H1742.1V838.8H1739.1V840.3H1736.1V840.7H1733.1V842.4H1730.1V843.7H1727.0V845.1H1724.0V844.8H1721.0V844.8H1718.0V846.1H1715.0V847.9H1711.9V850.3H1708.9V850.9H1705.9V850.2H1702.9V851.1H1699.9V857.1H1696.8V849.9H1693.8V851.2H1690.8V849.8H1687.8V851.6H1684.8V851.6H1681.7V852.4H1678.7V852.4H1675.7V851.3H1672.7V850.8H1669.7V851.9H1666.6V854.3H1663.6V853.4H1660.6V855.7H1657.6V856.0H1654.6V858.7H1651.5V859.4H1648.5V860.6H1645.5V861.5H1642.5V860.8H1639.5V861.8H1636.4V862.3H1633.4V864.3H1630.4V864.3H1627.4V863.9H1624.4V863.0H1621.3V865.6H1618.3V867.9H1615.3V874.1H1612.3V870.7H1609.3V870.5H1606.2V871.0H1603.2V872.0H1600.2V872.5H1597.2V875.0H1594.2V876.0H1591.1V876.1H1588.1V877.7H1585.1V880.5H1582.1V882.6H1579.1V884.1H1576.0V885.1H1573.0V887.2H1570.0V886.5H1567.0V885.9H1564.0V886.3H1560.9V887.8H1557.9V890.9H1554.9V890.0H1551.9V890.1H1548.9V892.8H1545.8V892.6H1542.8V896.7H1539.8V897.5H1536.8V898.4H1533.8V900.6H1530.7V903.4H1527.7V904.4H1524.7V904.6H1521.7V905.2H1518.7V905.8H1515.6V907.8H1512.6V911.5H1509.6V913.7H1506.6V914.0H1503.6V908.8H1500.5V911.4H1497.5V916.0H1494.5V920.6H1491.5V922.2H1488.5V926.7H1485.4V931.3H1482.4V934.2H1479.4V940.0H1476.4V941.1H1473.4V945.0H1470.3V947.8H1467.3V950.6H1464.3V950.8H1461.3V951.5H1458.3V955.3H1455.2V956.4H1452.2V957.8H1449.2V958.9H1446.2V959.0H1443.2V959.0H1440.1V960.8H1437.1V962.6H1434.1V963.6H1431.1V966.5H1428.1V964.3H1425.0V963.4H1422.0V963.0H1419.0V962.5H1416.0V966.1H1413.0V962.4H1409.9V964.0H1406.9V962.8H1403.9V959.7H1400.9V960.9H1397.9V960.5H1394.8V960.2H1391.8V960.2H1388.8V961.9H1385.8V957.6H1382.8V957.5H1379.7V955.0H1376.7V952.5H1373.7V951.8H1370.7V952.0H1367.7V950.5H1364.6V951.6H1361.6V949.7H1358.6V950.6H1355.6V949.3H1352.6V948.4H1349.5V947.6H1346.5V946.3H1343.5V945.5H1340.5V943.0H1337.5V943.7H1334.4V943.1H1331.4V942.7H1328.4V948.3H1325.4V943.5H1322.4V944.9H1319.3V941.5H1316.3V942.4H1313.3V942.4H1310.3V946.2H1307.3V944.7H1304.2V941.7H1301.2V941.0H1298.2V939.1H1295.2V939.0H1292.2V938.3H1289.1V940.3H1286.1V940.3H1283.1V938.8H1280.1V937.3H1277.1V935.7H1274.0V936.7H1271.0V932.9H1268.0V930.4H1265.0V928.8H1262.0V929.0H1258.9V929.2H1255.9V929.0H1252.9V930.3H1249.9V927.8H1246.9V925.1H1243.8V925.1H1240.8V924.9H1237.8V925.7H1234.8V923.8H1231.8V921.5H1228.7V921.0H1225.7V921.6H1222.7V916.8H1219.7V916.3H1216.7V915.9H1213.6V913.4H1210.6V912.4H1207.6V910.4H1204.6V909.3H1201.6V909.0H1198.5V907.9H1195.5V908.1H1192.5V906.1H1189.5V904.7H1186.5V904.7H1183.4V902.7H1180.4V902.4H1177.4V908.5H1174.4V898.9H1171.4V896.4H1168.3V896.1H1165.3V894.6H1162.3V892.5H1159.3V890.1H1156.3V889.5H1153.2V888.8H1150.2V887.3H1147.2V893.1H1144.2V885.9H1141.2V884.6H1138.1V881.6H1135.1V881.9H1132.1V884.4H1129.1V888.5H1126.1V879.2H1123.0V876.2H1120.0V869.7H1117.0V866.1H1114.0V862.5H1111.0V858.5H1107.9V850.7H1104.9V847.4H1101.9V847.5H1098.9V842.8H1095.9V841.2H1092.8V839.7H1089.8V837.9H1086.8V835.3H1083.8V834.1H1080.8V833.0H1077.7V831.9H1074.7V829.5H1071.7V830.1H1068.7V828.2H1065.7V829.1H1062.6V830.5H1059.6V828.9H1056.6V832.2H1053.6V830.5H1050.6V832.4H1047.5V829.1H1044.5V828.8H1041.5V830.3H1038.5V830.8H1035.5V837.1H1032.4V833.8H1029.4V835.0H1026.4V835.4H1023.4V837.9H1020.4V835.6H1017.3V838.2H1014.3V838.0H1011.3V839.3H1008.3V840.9H1005.3V841.1H1002.2V849.6H999.2V844.6H996.2V846.0H993.2V848.4H990.2V846.8H987.1V848.7H984.1V847.2H981.1V848.7H978.1V850.5H975.1V851.3H972.0V850.7H969.0V850.2H966.0V853.0H963.0V854.9H960.0V852.8H956.9V853.2H953.9V851.2H950.9V851.2H947.9V851.2H944.9V852.1H941.8V850.9H938.8V852.8H935.8V855.1H932.8V856.8H929.8V856.5H926.7V856.3H923.7V858.2H920.7V860.8H917.7V861.6H914.7V861.7H911.6V868.8H908.6V861.1H905.6V861.1H902.6V863.0H899.6V861.2H896.5V865.1H893.5V865.1H890.5V867.1H887.5V866.7H884.5V869.1H881.4V868.3H878.4V870.1H875.4V869.9H872.4V870.8H869.4V874.3H866.3V875.6H863.3V874.3H860.3V876.4H857.3V879.4H854.3V878.3H851.2V881.3H848.2V884.8H845.2V885.0H842.2V888.5H839.2V887.9H836.1V888.4H833.1V888.7H830.1V888.5H827.1V889.9H824.1V891.3H821.0V890.1H818.0V892.2H815.0V892.8H812.0V896.1H809.0V897.9H805.9V899.6H802.9V901.5H799.9V903.2H796.9V905.5H793.9V905.2H790.8V906.5H787.8V908.6H784.8V907.1H781.8V908.4H778.8V912.6H775.7V910.9H772.7V915.3H769.7V913.6H766.7V915.5H763.7V920.9H760.6V923.7H757.6V928.8H754.6V936.4H751.6V936.8H748.6V938.3H745.5V940.4H742.5V944.5H739.5V947.9H736.5V951.8H733.5V951.3H730.4V954.2H727.4V952.6H724.4V955.0H721.4V955.6H718.4V958.8H715.3V959.7H712.3V964.5H709.3V965.2H706.3V966.1H703.3V964.7H700.2V968.2H697.2V963.4H694.2V965.5H691.2V964.2H688.2V963.2H685.1V963.5H682.1V963.9H679.1V965.5H676.1V963.0H673.1V961.6H670.0V961.3H667.0V960.5H664.0V962.8H661.0V957.9H658.0V958.2H654.9V958.2H651.9V958.7H648.9V958.5H645.9V955.2H642.9V954.6H639.8V954.6H636.8V952.5H633.8V951.5H630.8V950.2H627.8V951.2H624.7V946.7H621.7V945.6H618.7V943.0H615.7V943.6H612.7V942.1H609.6V946.7H606.6V944.7H603.6V944.3H600.6V945.6H597.6V944.3H594.5V950.5H591.5V941.5H588.5V940.3H585.5V941.2H582.5V941.7H579.4V943.6H576.4V940.4H573.4V946.5H570.4V940.3H567.4V943.6H564.3V939.1H561.3V939.4H558.3V937.0H555.3V937.5H552.3V935.8H549.2V936.4H546.2V936.1H543.2V933.5H540.2V934.4H537.2V932.4H534.1V930.7H531.1V930.0H528.1V928.4H525.1V929.3H522.1V928.3H519.0V925.5H516.0V925.5H513.0V925.6H510.0V923.9H507.0V922.9H503.9V923.4H500.9V921.5H497.9V920.3H494.9V919.0H491.9V917.3H488.8V915.1H485.8V912.7H482.8V911.3H479.8V910.2H476.8V909.3H473.7V908.7H470.7V908.1H467.7V906.8H464.7V905.9H461.7V907.3H458.6V905.9H455.6V903.8H452.6V900.9H449.6V898.5H446.6V898.4H443.5V896.8H440.5V896.2H437.5V896.7H434.5V894.1H431.5V896.1H428.4V890.8H425.4V891.1H422.4V890.1H419.4V887.9H416.4V888.3H413.3V884.4H410.3V884.5H407.3V884.7H404.3V886.0H401.3V882.3H398.2V878.7H395.2V874.2H392.2V870.0H389.2V866.5H386.2V866.2H383.1V857.7H380.1V855.2H377.1V853.2H374.1V853.4H371.1V849.8H368.0V844.1H365.0V840.1H362.0V837.9H359.0V838.7H356.0V837.3H352.9V834.4H349.9V834.2H346.9V832.9H343.9V831.6H340.9V832.2H337.8V829.9H334.8V830.7H331.8V831.4H328.8V828.5H325.8V829.6H322.7V829.2H319.7V830.9H316.7V832.3H313.7V833.5H310.7V833.6H307.6V831.6H304.6V830.9H301.6V833.2H298.6V832.6H295.6V833.5H292.5V833.7H289.5V835.8H286.5V839.0H283.5V843.2H280.5V842.0H277.4V847.7H274.4V842.7H271.4V844.6H268.4V844.9H265.4V846.8H262.3V845.3H259.3V850.2H256.3V847.4H253.3V848.5H250.3V849.8H247.2V852.0H244.2V850.9H241.2V849.4H238.2V850.7H235.2V848.5H232.1V849.9H229.1V850.5H226.1V856.1H223.1V853.9H220.1V856.8H217.0V856.7H214.0V855.0H211.0V856.0H208.0V854.2H205.0V854.0H201.9V854.5H198.9V856.1H195.9V856.0H192.9V856.4H189.9V856.8H186.8V858.8H183.8V859.4H180.8V860.8H177.8V862.9H174.8V862.3H171.7V863.7H168.7V866.7H165.7V865.2H162.7V866.8H159.7V867.1H156.6V869.4H153.6V869.6H150.6V870.6H147.6V871.9H144.6V871.0H141.5V872.3H138.5V874.7H135.5V874.3H132.5V875.1H129.5V878.5H126.4V880.1H123.4V882.7H120.4V883.5H117.4V882.5H114.4V886.7H111.3V886.7H108.3V889.9H105.3V886.8H102.3V888.5H99.3V890.3H96.2V891.6H93.2V890.3H90.2V892.1H87.2V891.2H84.2V893.7H81.1V896.5H78.1V898.1H75.1V900.9H72.1V900.8H69.1V901.4H66.0V903.5H63.0V904.7H60.0Z" fill="#2bb8cf"/>
<path d="M60.0 1103.9V1103.9H63.0V1102.1H66.0V1101.0H69.1V1099.9H72.1V1096.3H75.1V1101.4H78.1V1106.2H81.1V1107.3H84.2V1109.3H87.2V1108.3H90.2V1109.8H93.2V1109.1H96.2V1105.1H99.3V1104.4H102.3V1103.8H105.3V1100.7H108.3V1101.9H111.3V1098.6H114.4V1097.0H117.4V1095.3H120.4V1090.7H123.4V1093.1H126.4V1092.3H129.5V1087.3H132.5V1090.2H135.5V1080.0H138.5V1078.0H141.5V1071.4H144.6V1068.5H147.6V1064.4H150.6V1061.8H153.6V1057.0H156.6V1051.6H159.7V1051.9H162.7V1050.1H165.7V1055.3H168.7V1052.3H171.7V1051.4H174.8V1050.7H177.8V1045.8H180.8V1047.7H183.8V1051.2H186.8V1049.7H189.9V1048.6H192.9V1045.0H195.9V1047.7H198.9V1045.4H201.9V1045.5H205.0V1047.8H208.0V1043.1H211.0V1043.6H214.0V1043.4H217.0V1042.5H220.1V1045.0H223.1V1043.7H226.1V1046.3H229.1V1047.1H232.1V1049.5H235.2V1052.2H238.2V1051.8H241.2V1052.8H244.2V1055.8H247.2V1052.0H250.3V1057.0H253.3V1063.0H256.3V1065.7H259.3V1069.7H262.3V1073.7H265.4V1078.7H268.4V1080.9H271.4V1087.2H274.4V1091.5H277.4V1096.3H280.5V1099.0H283.5V1098.4H286.5V1093.8H289.5V1097.5H292.5V1103.6H295.6V1105.5H298.6V1106.2H301.6V1107.4H304.6V1111.5H307.6V1111.2H310.7V1117.2H313.7V1117.8H316.7V1118.8H319.7V1119.6H322.7V1123.3H325.8V1122.2H328.8V1127.9H331.8V1127.7H334.8V1130.0H337.8V1131.2H340.9V1131.6H343.9V1129.7H346.9V1133.4H349.9V1133.9H352.9V1135.9H356.0V1136.0H359.0V1138.1H362.0V1132.1H365.0V1134.5H368.0V1137.4H371.1V1131.9H374.1V1134.2H377.1V1129.0H380.1V1124.4H383.1V1127.1H386.2V1123.9H389.2V1118.4H392.2V1118.4H395.2V1112.9H398.2V1111.0H401.3V1113.9H404.3V1113.5H407.3V1112.4H410.3V1109.8H413.3V1112.6H416.4V1115.0H419.4V1112.2H422.4V1115.8H425.4V1114.1H428.4V1113.1H431.5V1111.2H434.5V1114.1H437.5V1112.2H440.5V1106.3H443.5V1103.4H446.6V1105.7H449.6V1105.0H452.6V1103.8H455.6V1102.2H458.6V1102.3H461.7V1101.6H464.7V1106.8H467.7V1105.8H470.7V1107.9H473.7V1112.0H476.8V1112.0H479.8V1111.1H482.8V1111.8H485.8V1111.8H488.8V1115.0H491.9V1113.3H494.9V1117.7H497.9V1121.8H500.9V1127.9H503.9V1128.2H507.0V1134.6H510.0V1138.3H513.0V1139.2H516.0V1145.8H519.0V1147.9H522.1V1152.7H525.1V1157.9H528.1V1159.7H531.1V1154.6H534.1V1158.0H537.2V1158.9H540.2V1159.9H543.2V1160.6H546.2V1161.3H549.2V1164.8H552.3V1161.0H555.3V1163.1H558.3V1161.7H561.3V1162.3H564.3V1165.9H567.4V1168.6H570.4V1168.7H573.4V1168.8H576.4V1165.8H579.4V1169.3H582.5V1165.8H585.5V1166.8H588.5V1164.0H591.5V1163.4H594.5V1157.7H597.6V1157.8H600.6V1159.1H603.6V1150.3H606.6V1155.2H609.6V1151.3H612.7V1147.7H615.7V1146.0H618.7V1142.7H621.7V1135.8H624.7V1135.2H627.8V1132.8H630.8V1127.5H633.8V1124.3H636.8V1120.6H639.8V1117.1H642.9V1110.8H645.9V1110.0H648.9V1109.5H651.9V1107.4H654.9V1106.1H658.0V1103.8H661.0V1100.4H664.0V1098.5H667.0V1100.2H670.0V1097.2H673.1V1096.1H676.1V1090.4H679.1V1091.8H682.1V1087.4H685.1V1087.8H688.2V1084.4H691.2V1081.2H694.2V1082.6H697.2V1077.2H700.2V1076.9H703.3V1072.7H706.3V1077.5H709.3V1077.3H712.3V1075.3H715.3V1074.3H718.4V1076.8H721.4V1075.6H724.4V1074.3H727.4V1073.4H730.4V1071.0H733.5V1075.9H736.5V1078.4H739.5V1079.1H742.5V1080.1H745.5V1081.2H748.6V1084.1H751.6V1084.9H754.6V1091.9H757.6V1095.6H760.6V1095.2H763.7V1093.6H766.7V1094.2H769.7V1098.2H772.7V1100.0H775.7V1101.0H778.8V1101.3H781.8V1102.8H784.8V1101.9H787.8V1102.8H790.8V1102.8H793.9V1102.4H796.9V1101.6H799.9V1103.6H802.9V1099.1H805.9V1104.1H809.0V1106.1H812.0V1109.1H815.0V1107.6H818.0V1108.0H821.0V1108.1H824.1V1109.0H827.1V1107.8H830.1V1106.0H833.1V1100.8H836.1V1102.2H839.2V1099.3H842.2V1096.9H845.2V1096.5H848.2V1093.8H851.2V1093.5H854.3V1093.6H857.3V1089.3H860.3V1087.5H863.3V1082.2H866.3V1080.2H869.4V1078.0H872.4V1071.5H875.4V1065.5H878.4V1061.5H881.4V1059.1H884.5V1057.6H887.5V1052.4H890.5V1052.0H893.5V1051.5H896.5V1049.3H899.6V1048.2H902.6V1051.2H905.6V1049.9H908.6V1049.6H911.6V1049.3H914.7V1047.6H917.7V1048.9H920.7V1048.4H923.7V1044.1H926.7V1044.7H929.8V1043.0H932.8V1044.4H935.8V1046.9H938.8V1046.9H941.8V1046.7H944.9V1045.5H947.9V1044.1H950.9V1043.1H953.9V1044.0H956.9V1043.4H960.0V1042.6H963.0V1046.6H966.0V1047.8H969.0V1049.9H972.0V1052.4H975.1V1054.7H978.1V1056.1H981.1V1058.2H984.1V1063.7H987.1V1061.2H990.2V1067.5H993.2V1071.2H996.2V1076.4H999.2V1080.6H1002.2V1082.8H1005.3V1087.6H1008.3V1095.1H1011.3V1099.8H1014.3V1101.3H1017.3V1099.6H1020.4V1100.9H1023.4V1100.9H1026.4V1107.0H1029.4V1112.0H1032.4V1111.3H1035.5V1112.4H1038.5V1113.2H1041.5V1113.3H1044.5V1116.7H1047.5V1117.2H1050.6V1120.8H1053.6V1124.4H1056.6V1122.5H1059.6V1127.1H1062.6V1128.4H1065.7V1130.2H1068.7V1132.6H1071.7V1133.4H1074.7V1134.3H1077.7V1131.4H1080.8V1134.3H1083.8V1135.9H1086.8V1134.6H1089.8V1134.1H1092.8V1128.9H1095.9V1134.9H1098.9V1133.1H1101.9V1127.9H1104.9V1132.8H1107.9V1126.5H1111.0V1126.9H1114.0V1126.4H1117.0V1121.0H1120.0V1117.1H1123.0V1108.9H1126.1V1112.5H1129.1V1111.4H1132.1V1108.0H1135.1V1110.7H1138.1V1108.9H1141.2V1108.9H1144.2V1107.5H1147.2V1112.4H1150.2V1113.1H1153.2V1109.1H1156.3V1111.6H1159.3V1113.0H1162.3V1112.6H1165.3V1109.9H1168.3V1109.3H1171.4V1109.1H1174.4V1109.9H1177.4V1104.8H1180.4V1109.2H1183.4V1105.4H1186.5V1105.1H1189.5V1104.0H1192.5V1104.1H1195.5V1107.1H1198.5V1104.0H1201.6V1105.3H1204.6V1105.9H1207.6V1110.0H1210.6V1106.7H1213.6V1111.9H1216.7V1112.0H1219.7V1115.7H1222.7V1115.6H1225.7V1117.5H1228.7V1120.6H1231.8V1122.1H1234.8V1126.0H1237.8V1132.3H1240.8V1135.6H1243.8V1143.0H1246.9V1146.8H1249.9V1148.7H1252.9V1156.4H1255.9V1157.6H1258.9V1160.2H1262.0V1159.4H1265.0V1163.6H1268.0V1165.8H1271.0V1165.6H1274.0V1161.9H1277.1V1159.7H1280.1V1154.9H1283.1V1159.8H1286.1V1165.2H1289.1V1166.3H1292.2V1166.7H1295.2V1164.0H1298.2V1164.7H1301.2V1166.1H1304.2V1164.9H1307.3V1165.7H1310.3V1158.0H1313.3V1163.4H1316.3V1158.7H1319.3V1164.3H1322.4V1162.5H1325.4V1161.5H1328.4V1162.4H1331.4V1159.4H1334.4V1154.3H1337.5V1150.8H1340.5V1151.4H1343.5V1145.4H1346.5V1140.8H1349.5V1136.4H1352.6V1138.6H1355.6V1134.4H1358.6V1127.5H1361.6V1121.2H1364.6V1121.0H1367.7V1115.8H1370.7V1114.1H1373.7V1109.8H1376.7V1107.6H1379.7V1107.6H1382.8V1103.8H1385.8V1104.3H1388.8V1104.0H1391.8V1099.1H1394.8V1096.3H1397.9V1097.9H1400.9V1093.9H1403.9V1093.3H1406.9V1091.6H1409.9V1084.0H1413.0V1084.8H1416.0V1082.3H1419.0V1079.8H1422.0V1080.7H1425.0V1078.3H1428.1V1079.5H1431.1V1078.7H1434.1V1076.9H1437.1V1075.8H1440.1V1076.5H1443.2V1074.5H1446.2V1077.5H1449.2V1074.7H1452.2V1077.5H1455.2V1078.6H1458.3V1076.3H1461.3V1066.8H1464.3V1074.1H1467.3V1068.6H1470.3V1077.9H1473.4V1078.2H1476.4V1078.5H1479.4V1083.9H1482.4V1083.3H1485.4V1084.2H1488.5V1090.4H1491.5V1093.5H1494.5V1097.5H1497.5V1099.6H1500.5V1099.3H1503.6V1097.9H1506.6V1097.6H1509.6V1099.1H1512.6V1100.2H1515.6V1099.6H1518.7V1101.0H1521.7V1103.9H1524.7V1105.1H1527.7V1102.5H1530.7V1103.9H1533.8V1105.7H1536.8V1100.9H1539.8V1104.4H1542.8V1100.9H1545.8V1103.6H1548.9V1102.6H1551.9V1106.5H1554.9V1105.2H1557.9V1108.6H1560.9V1103.8H1564.0V1099.5H1567.0V1098.4H1570.0V1096.3H1573.0V1098.2H1576.0V1097.8H1579.1V1095.7H1582.1V1094.1H1585.1V1089.3H1588.1V1087.2H1591.1V1084.4H1594.2V1082.8H1597.2V1078.7H1600.2V1074.4H1603.2V1070.8H1606.2V1064.0H1609.3V1062.0H1612.3V1061.3H1615.3V1054.2H1618.3V1054.3H1621.3V1051.2H1624.4V1053.6H1627.4V1054.1H1630.4V1052.0H1633.4V1051.3H1636.4V1051.3H1639.5V1052.0H1642.5V1050.2H1645.5V1047.4H1648.5V1045.1H1651.5V1044.2H1654.6V1043.4H1657.6V1044.4H1660.6V1043.8H1663.6V1042.4H1666.6V1045.0H1669.7V1045.4H1672.7V1046.8H1675.7V1046.9H1678.7V1045.2H1681.7V1045.4H1684.8V1047.7H1687.8V1048.1H1690.8V1048.4H1693.8V1048.1H1696.8V1043.6H1699.9V1052.2H1702.9V1050.4H1705.9V1054.9H1708.9V1055.8H1711.9V1055.3H1715.0V1061.4H1718.0V1064.8H1721.0V1063.8H1724.0V1071.2H1727.0V1070.8H1730.1V1080.0H1733.1V1088.3H1736.1V1092.3H1739.1V1096.5H1742.1V1097.5H1745.2V1099.3H1748.2V1102.8H1751.2V1103.7H1754.2V1107.9H1757.2V1108.7H1760.3V1113.0H1763.3V1110.8H1766.3V1117.8H1769.3V1120.0H1772.3V1117.3H1775.4V1118.8H1778.4V1120.4H1781.4V1122.0H1784.4V1124.1H1787.4V1125.7H1790.5V1130.3H1793.5V1128.3H1796.5V1127.0H1799.5V1132.3H1802.5V1131.9H1805.6V1134.1H1808.6V1130.9H1811.6V1127.5H1814.6V1130.5H1817.6V1134.7H1820.7V1135.6H1823.7V1132.4H1826.7V1133.3H1829.7V1131.5H1832.7V1133.5H1835.8V1131.3H1838.8V1128.9H1841.8V1119.5H1844.8V1118.9H1847.8V1117.6H1850.9V1117.4H1853.9V1113.1H1856.9V1105.5H1859.9V1106.9H1862.9V1107.3H1866.0V1110.5H1869.0V1111.3H1872.0V1113.1H1875.0V1110.7H1878.0V1112.6H1881.1V1113.9H1884.1V1113.0H1884.6V1122.3H1884.1V1125.1H1881.1V1126.1H1878.0V1126.0H1875.0V1126.2H1872.0V1124.3H1869.0V1121.7H1866.0V1119.1H1862.9V1120.6H1859.9V1124.6H1856.9V1129.9H1853.9V1132.0H1850.9V1131.2H1847.8V1133.8H1844.8V1137.8H1841.8V1140.6H1838.8V1145.1H1835.8V1143.6H1832.7V1145.3H1829.7V1145.2H1826.7V1148.9H1823.7V1147.5H1820.7V1146.0H1817.6V1146.1H1814.6V1144.2H1811.6V1142.1H1808.6V1146.3H1805.6V1143.7H1802.5V1143.1H1799.5V1142.8H1796.5V1142.0H1793.5V1144.0H1790.5V1141.3H1787.4V1137.8H1784.4V1135.4H1781.4V1136.6H1778.4V1131.6H1775.4V1129.9H1772.3V1130.0H1769.3V1131.5H1766.3V1126.7H1763.3V1123.8H1760.3V1121.3H1757.2V1123.3H1754.2V1118.3H1751.2V1114.7H1748.2V1112.8H1745.2V1109.9H1742.1V1108.4H1739.1V1106.4H1736.1V1102.7H1733.1V1096.9H1730.1V1092.1H1727.0V1088.2H1724.0V1088.3H1721.0V1079.2H1718.0V1074.8H1715.0V1072.9H1711.9V1073.2H1708.9V1068.1H1705.9V1069.5H1702.9V1062.7H1699.9V1063.8H1696.8V1065.3H1693.8V1062.1H1690.8V1058.7H1687.8V1057.9H1684.8V1060.6H1681.7V1058.2H1678.7V1057.5H1675.7V1058.9H1672.7V1055.9H1669.7V1057.1H1666.6V1058.1H1663.6V1056.4H1660.6V1054.2H1657.6V1059.5H1654.6V1054.1H1651.5V1055.4H1648.5V1058.3H1645.5V1060.0H1642.5V1063.1H1639.5V1062.8H1636.4V1063.9H1633.4V1063.6H1630.4V1063.6H1627.4V1063.1H1624.4V1061.4H1621.3V1068.4H1618.3V1070.9H1615.3V1075.0H1612.3V1079.4H1609.3V1083.5H1606.2V1090.3H1603.2V1091.4H1600.2V1093.9H1597.2V1096.5H1594.2V1097.8H1591.1V1101.4H1588.1V1103.5H1585.1V1104.6H1582.1V1106.3H1579.1V1109.4H1576.0V1111.4H1573.0V1110.3H1570.0V1111.2H1567.0V1115.8H1564.0V1118.0H1560.9V1118.3H1557.9V1118.8H1554.9V1119.1H1551.9V1116.8H1548.9V1115.9H1545.8V1114.7H1542.8V1114.2H1539.8V1116.5H1536.8V1115.7H1533.8V1115.5H1530.7V1116.0H1527.7V1115.6H1524.7V1114.9H1521.7V1115.0H1518.7V1114.1H1515.6V1113.8H1512.6V1108.3H1509.6V1109.9H1506.6V1112.1H1503.6V1115.5H1500.5V1113.1H1497.5V1113.0H1494.5V1109.5H1491.5V1103.6H1488.5V1102.7H1485.4V1097.2H1482.4V1097.0H1479.4V1094.2H1476.4V1089.7H1473.4V1091.7H1470.3V1089.4H1467.3V1086.8H1464.3V1085.5H1461.3V1088.4H1458.3V1090.0H1455.2V1087.8H1452.2V1087.1H1449.2V1088.5H1446.2V1087.2H1443.2V1086.1H1440.1V1087.6H1437.1V1089.2H1434.1V1089.7H1431.1V1092.1H1428.1V1090.7H1425.0V1092.2H1422.0V1093.2H1419.0V1094.8H1416.0V1097.2H1413.0V1105.6H1409.9V1102.6H1406.9V1106.7H1403.9V1110.3H1400.9V1110.6H1397.9V1111.2H1394.8V1114.9H1391.8V1116.7H1388.8V1120.4H1385.8V1119.9H1382.8V1120.3H1379.7V1122.3H1376.7V1127.8H1373.7V1126.3H1370.7V1131.7H1367.7V1137.6H1364.6V1138.4H1361.6V1146.0H1358.6V1149.7H1355.6V1160.9H1352.6V1152.1H1349.5V1157.2H1346.5V1162.0H1343.5V1169.3H1340.5V1171.8H1337.5V1168.6H1334.4V1174.9H1331.4V1172.9H1328.4V1172.5H1325.4V1173.2H1322.4V1176.1H1319.3V1173.9H1316.3V1174.6H1313.3V1174.4H1310.3V1175.2H1307.3V1175.4H1304.2V1175.7H1301.2V1176.5H1298.2V1174.7H1295.2V1177.0H1292.2V1178.2H1289.1V1179.1H1286.1V1177.7H1283.1V1170.1H1280.1V1173.3H1277.1V1178.7H1274.0V1181.8H1271.0V1179.1H1268.0V1175.1H1265.0V1173.3H1262.0V1173.7H1258.9V1170.7H1255.9V1170.5H1252.9V1167.2H1249.9V1162.3H1246.9V1162.8H1243.8V1155.8H1240.8V1151.1H1237.8V1141.5H1234.8V1139.2H1231.8V1133.0H1228.7V1130.6H1225.7V1127.6H1222.7V1130.7H1219.7V1125.0H1216.7V1126.1H1213.6V1122.1H1210.6V1119.9H1207.6V1119.3H1204.6V1121.4H1201.6V1120.1H1198.5V1118.9H1195.5V1120.2H1192.5V1117.0H1189.5V1118.4H1186.5V1119.1H1183.4V1123.4H1180.4V1121.7H1177.4V1121.5H1174.4V1125.8H1171.4V1123.0H1168.3V1124.1H1165.3V1125.5H1162.3V1125.8H1159.3V1123.0H1156.3V1121.7H1153.2V1122.5H1150.2V1122.5H1147.2V1122.6H1144.2V1121.5H1141.2V1119.0H1138.1V1121.1H1135.1V1121.8H1132.1V1122.0H1129.1V1124.5H1126.1V1128.6H1123.0V1133.1H1120.0V1136.3H1117.0V1141.2H1114.0V1139.7H1111.0V1142.2H1107.9V1145.3H1104.9V1147.0H1101.9V1146.3H1098.9V1148.1H1095.9V1144.8H1092.8V1146.1H1089.8V1143.6H1086.8V1147.7H1083.8V1156.9H1080.8V1147.4H1077.7V1147.1H1074.7V1145.6H1071.7V1144.2H1068.7V1143.6H1065.7V1138.8H1062.6V1140.7H1059.6V1138.2H1056.6V1136.5H1053.6V1135.0H1050.6V1134.1H1047.5V1131.3H1044.5V1128.5H1041.5V1125.6H1038.5V1125.4H1035.5V1123.5H1032.4V1123.8H1029.4V1123.0H1026.4V1118.9H1023.4V1118.3H1020.4V1112.9H1017.3V1109.8H1014.3V1107.7H1011.3V1110.1H1008.3V1104.3H1005.3V1101.7H1002.2V1095.1H999.2V1092.1H996.2V1087.9H993.2V1081.1H990.2V1080.3H987.1V1077.1H984.1V1074.5H981.1V1068.7H978.1V1067.9H975.1V1065.0H972.0V1060.7H969.0V1058.6H966.0V1062.7H963.0V1062.0H960.0V1058.2H956.9V1056.2H953.9V1055.6H950.9V1055.6H947.9V1061.8H944.9V1057.8H941.8V1057.8H938.8V1062.3H935.8V1058.8H932.8V1058.7H929.8V1057.5H926.7V1058.7H923.7V1060.2H920.7V1059.7H917.7V1059.5H914.7V1059.2H911.6V1061.1H908.6V1059.7H905.6V1062.7H902.6V1062.6H899.6V1067.0H896.5V1064.8H893.5V1063.7H890.5V1068.0H887.5V1073.7H884.5V1077.1H881.4V1078.2H878.4V1083.7H875.4V1087.3H872.4V1091.9H869.4V1094.8H866.3V1097.1H863.3V1102.6H860.3V1102.9H857.3V1104.7H854.3V1109.3H851.2V1107.7H848.2V1109.3H845.2V1108.3H842.2V1116.1H839.2V1120.4H836.1V1118.1H833.1V1120.4H830.1V1117.7H827.1V1124.4H824.1V1116.9H821.0V1123.1H818.0V1119.1H815.0V1118.7H812.0V1119.5H809.0V1119.7H805.9V1114.5H802.9V1115.7H799.9V1114.3H796.9V1113.5H793.9V1116.3H790.8V1112.2H787.8V1111.8H784.8V1113.5H781.8V1111.7H778.8V1111.9H775.7V1109.8H772.7V1112.8H769.7V1110.0H766.7V1110.4H763.7V1110.7H760.6V1107.4H757.6V1104.9H754.6V1099.9H751.6V1097.3H748.6V1093.9H745.5V1092.7H742.5V1093.2H739.5V1090.9H736.5V1089.0H733.5V1083.0H730.4V1085.3H727.4V1084.0H724.4V1086.1H721.4V1087.2H718.4V1085.3H715.3V1088.5H712.3V1087.2H709.3V1087.6H706.3V1087.2H703.3V1089.2H700.2V1092.1H697.2V1093.9H694.2V1094.8H691.2V1096.4H688.2V1100.7H685.1V1103.8H682.1V1105.2H679.1V1104.5H676.1V1106.8H673.1V1109.7H670.0V1112.0H667.0V1113.4H664.0V1113.4H661.0V1115.7H658.0V1117.2H654.9V1121.1H651.9V1120.9H648.9V1125.9H645.9V1126.3H642.9V1129.8H639.8V1135.3H636.8V1140.4H633.8V1142.2H630.8V1148.7H627.8V1152.4H624.7V1154.6H621.7V1155.0H618.7V1162.2H615.7V1166.9H612.7V1163.9H609.6V1168.0H606.6V1173.4H603.6V1170.6H600.6V1172.3H597.6V1175.4H594.5V1177.7H591.5V1178.7H588.5V1180.8H585.5V1180.9H582.5V1180.3H579.4V1180.9H576.4V1180.4H573.4V1179.8H570.4V1183.9H567.4V1178.2H564.3V1176.1H561.3V1177.0H558.3V1173.9H555.3V1176.0H552.3V1173.9H549.2V1174.8H546.2V1174.1H543.2V1172.3H540.2V1169.2H537.2V1170.7H534.1V1174.3H531.1V1172.4H528.1V1173.4H525.1V1170.8H522.1V1166.2H519.0V1158.8H516.0V1155.5H513.0V1154.7H510.0V1148.8H507.0V1146.3H503.9V1141.8H500.9V1136.3H497.9V1133.6H494.9V1129.2H491.9V1129.0H488.8V1126.4H485.8V1127.0H482.8V1122.3H479.8V1123.9H476.8V1124.6H473.7V1123.0H470.7V1120.8H467.7V1119.0H464.7V1118.9H461.7V1115.7H458.6V1114.7H455.6V1115.1H452.6V1117.2H449.6V1115.7H446.6V1118.7H443.5V1120.7H440.5V1124.8H437.5V1124.2H434.5V1123.5H431.5V1122.4H428.4V1124.8H425.4V1127.8H422.4V1125.8H419.4V1123.9H416.4V1124.3H413.3V1123.9H410.3V1124.7H407.3V1123.8H404.3V1126.7H401.3V1123.7H398.2V1128.9H395.2V1133.0H392.2V1138.4H389.2V1138.8H386.2V1140.4H383.1V1143.4H380.1V1141.9H377.1V1147.4H374.1V1147.2H371.1V1148.8H368.0V1148.8H365.0V1156.7H362.0V1150.0H359.0V1147.6H356.0V1146.3H352.9V1144.3H349.9V1148.4H346.9V1145.0H343.9V1144.5H340.9V1145.2H337.8V1141.2H334.8V1143.3H331.8V1137.9H328.8V1137.9H325.8V1135.1H322.7V1134.8H319.7V1133.5H316.7V1131.2H313.7V1129.9H310.7V1124.6H307.6V1121.7H304.6V1119.5H301.6V1119.8H298.6V1117.8H295.6V1121.0H292.5V1114.3H289.5V1110.0H286.5V1110.9H283.5V1109.6H280.5V1112.8H277.4V1110.4H274.4V1103.5H271.4V1100.4H268.4V1092.0H265.4V1087.9H262.3V1082.6H259.3V1078.1H256.3V1077.3H253.3V1075.3H250.3V1069.2H247.2V1068.9H244.2V1067.0H241.2V1066.1H238.2V1064.7H235.2V1060.2H232.1V1058.3H229.1V1058.4H226.1V1054.4H223.1V1057.2H220.1V1055.1H217.0V1054.9H214.0V1054.2H211.0V1056.4H208.0V1058.0H205.0V1058.7H201.9V1058.8H198.9V1060.0H195.9V1059.1H192.9V1062.1H189.9V1059.3H186.8V1062.5H183.8V1061.5H180.8V1062.4H177.8V1065.3H174.8V1062.9H171.7V1063.5H168.7V1065.2H165.7V1064.0H162.7V1063.7H159.7V1065.6H156.6V1070.9H153.6V1077.2H150.6V1080.8H147.6V1086.1H144.6V1091.1H141.5V1094.0H138.5V1098.9H135.5V1103.2H132.5V1106.2H129.5V1107.3H126.4V1111.1H123.4V1107.8H120.4V1108.3H117.4V1111.0H114.4V1112.9H111.3V1113.8H108.3V1115.2H105.3V1115.2H102.3V1118.0H99.3V1118.4H96.2V1120.3H93.2V1123.6H90.2V1119.4H87.2V1119.0H84.2V1118.4H81.1V1119.7H78.1V1116.6H75.1V1112.4H72.1V1109.7H69.1V1111.5H66.0V1113.0H63.0V1113.9H60.0Z" fill="#10aa4f"/>
</g>
<rect x="58.75" y="93.3" width="1825.75" height="1159.45" fill="none" stroke="#82858a" stroke-width="2.7"/>
<path d="M958.6 98.3H984.6L971.6 113.6Z" fill="#0b0b0b"/>
<text class="ser" fill="#050505" y="199" font-size="78"><tspan x="374.0" textLength="23.7" lengthAdjust="spacingAndGlyphs">i</tspan></text><text class="ser" fill="#050505" x="395.5 429.3" y="217.6" font-size="49">as</text>
<text class="ser" fill="#050505" y="482" font-size="78"><tspan x="652.3" textLength="23.7" lengthAdjust="spacingAndGlyphs">i</tspan></text><text class="ser" fill="#050505" x="673.9 707.9" y="500.6" font-size="49">bs</text>
<text class="ser" fill="#050505" y="787.8" font-size="78"><tspan x="899.9" textLength="23.7" lengthAdjust="spacingAndGlyphs">i</tspan></text><text class="ser" fill="#050505" x="920.5 956.0" y="806.4" font-size="49">cs</text>
<text class="ser" fill="#050505" y="1049.9" font-size="78"><tspan x="1111.5" textLength="23.7" lengthAdjust="spacingAndGlyphs">i</tspan></text><text class="ser" fill="#050505" x="1132.5 1169.3" y="1068.5" font-size="49">ns</text>
<rect x="27" y="303.5" width="26.3" height="3.8" fill="#f58220"/><text y="362.4" font-size="60.2" font-weight="bold" fill="#f58220"><tspan x="28.9" textLength="18.5" lengthAdjust="spacingAndGlyphs">1</tspan></text>
<rect x="27" y="595.9" width="26.3" height="3.8" fill="#c241a8"/><text y="655.1" font-size="58.4" font-weight="bold" fill="#c241a8"><tspan x="25.5" textLength="29.9" lengthAdjust="spacingAndGlyphs">2</tspan></text>
<rect x="27" y="888.9" width="26.3" height="3.8" fill="#2bb8cf"/><text y="873.4" font-size="56.4" font-weight="bold" fill="#2bb8cf"><tspan x="26.2" textLength="29.0" lengthAdjust="spacingAndGlyphs">3</tspan></text>
<rect x="27" y="1108.6" width="26.3" height="3.8" fill="#10aa4f"/><text y="1094.0" font-size="58.7" font-weight="bold" fill="#10aa4f"><tspan x="26.7" textLength="26.9" lengthAdjust="spacingAndGlyphs">4</tspan></text>
<text class="mo" transform="scale(0.86 1)" x="1111.3 1147.3 1181.1 1214.7" y="1312.1" font-size="58" fill="#0a0a0a" stroke="#0a0a0a" stroke-width="1.5" stroke-linejoin="round">Edge</text>
<g fill="none" stroke-width="2.8"><path d="M1119.7 1315.6H1161.7M1161.7 1271.2H1203" stroke="#0b0b0b"/><path d="M1161.7 1269.8V1317" stroke="#2bb8cf" stroke-width="3.2"/></g>
<path d="M1161.7 1282.2L1174.3 1302.2H1149Z" fill="#2bb8cf"/>
<rect x="1250.6" y="1269.7" width="146" height="48" rx="24" fill="#0b0b0b"/>
<text x="1279" y="1309.8" font-size="44.5" font-weight="bold" fill="#fff" textLength="89.5" lengthAdjust="spacingAndGlyphs">Line</text>
<rect x="54.4" y="1383" width="376" height="109.8" fill="#b1b1af"/>
<rect x="54.4" y="1324" width="377" height="59.4" fill="#f58220"/>
<rect x="430.6" y="1324" width="377" height="59.4" fill="#c241a8"/>
<rect x="806.8" y="1324" width="377" height="59.4" fill="#2bb8cf"/>
<rect x="1183.0" y="1324" width="377" height="59.4" fill="#10aa4f"/>
<rect x="53.4" y="1324" width="3.6" height="168.8" fill="#3c3c3c"/>
<rect x="429.6" y="1324" width="3.6" height="168.8" fill="#3c3c3c"/>
<rect x="805.8" y="1324" width="3.6" height="168.8" fill="#3c3c3c"/>
<rect x="1182.0" y="1324" width="3.6" height="168.8" fill="#3c3c3c"/>
<rect x="1558.2" y="1324" width="3.6" height="168.8" fill="#3c3c3c"/>
<text class="mo" transform="scale(0.86 1)" x="63.1 97.9 132.6 165.5 191.6 233.8 268.0 301.9" y="1371.4" font-size="58" fill="#fff" stroke="#fff" stroke-width="1.9" stroke-linejoin="round">1: 1.00V</text><rect x="211.6" y="1344.8" width="8.8" height="15" rx="2" fill="#f58220"/><rect x="241.0" y="1344.8" width="8.8" height="15" rx="2" fill="#f58220"/>
<text class="mo" transform="scale(0.86 1)" x="67.0 101.2 134.5 169.2 204.1" y="1429.9" font-size="58.5" font-weight="bold" fill="#0a0a0a" stroke="#0a0a0a" stroke-width="0.9" stroke-linejoin="round">AC1MΩ</text>
<text class="mo" transform="scale(0.86 1)" x="67.2 103.5 135.6" y="1485.2" font-size="58" fill="#0a0a0a" stroke="#0a0a0a" stroke-width="1.5" stroke-linejoin="round">ofs</text>
<text class="mo" transform="scale(0.86 1)" x="327.5 353.4 395.2 429.8 463.7" y="1485.2" font-size="58" fill="#0a0a0a" stroke="#0a0a0a" stroke-width="1.5" stroke-linejoin="round">2.50V</text><rect x="380.1" y="1458.6" width="8.8" height="15" rx="2" fill="#b1b1af"/>
<text class="mo" transform="scale(0.86 1)" x="500.8 535.3 570.1 602.9 629.1 671.3 705.4 739.3" y="1371.4" font-size="58" fill="#fff" stroke="#fff" stroke-width="1.9" stroke-linejoin="round">2: 1.00V</text><rect x="587.9" y="1344.8" width="8.8" height="15" rx="2" fill="#c241a8"/><rect x="617.2" y="1344.8" width="8.8" height="15" rx="2" fill="#c241a8"/>
<text class="mo" transform="scale(0.86 1)" x="504.5 538.7 572.0 606.7 641.6" y="1429.9" font-size="58.5" font-weight="bold" fill="#0a0a0a" stroke="#0a0a0a" stroke-width="0.9" stroke-linejoin="round">AC1MΩ</text>
<text class="mo" transform="scale(0.86 1)" x="504.7 540.9 573.1" y="1485.2" font-size="58" fill="#0a0a0a" stroke="#0a0a0a" stroke-width="1.5" stroke-linejoin="round">ofs</text>
<text class="mo" transform="scale(0.86 1)" x="764.4 799.0 833.1 867.7 901.1" y="1485.2" font-size="58" fill="#0a0a0a" stroke="#0a0a0a" stroke-width="1.5" stroke-linejoin="round">500mV</text><rect x="697.7" y="1458.6" width="8.8" height="15" rx="2" fill="#fff"/><rect x="727.0" y="1458.6" width="8.8" height="15" rx="2" fill="#fff"/>
<text class="mo" transform="scale(0.86 1)" x="938.4 972.7 1007.5 1040.4 1066.5 1108.7 1142.9 1176.7" y="1371.4" font-size="58" fill="#fff" stroke="#fff" stroke-width="1.9" stroke-linejoin="round">3: 1.00V</text><rect x="964.1" y="1344.8" width="8.8" height="15" rx="2" fill="#2bb8cf"/><rect x="993.4" y="1344.8" width="8.8" height="15" rx="2" fill="#2bb8cf"/>
<text class="mo" transform="scale(0.86 1)" x="941.9 976.1 1009.4 1044.1 1079.0" y="1429.9" font-size="58.5" font-weight="bold" fill="#0a0a0a" stroke="#0a0a0a" stroke-width="0.9" stroke-linejoin="round">AC1MΩ</text>
<text class="mo" transform="scale(0.86 1)" x="942.1 978.4 1010.5" y="1485.2" font-size="58" fill="#0a0a0a" stroke="#0a0a0a" stroke-width="1.5" stroke-linejoin="round">ofs</text>
<text class="mo" transform="scale(0.86 1)" x="1168.2 1202.2 1228.3 1270.1 1304.7 1338.5" y="1485.2" font-size="58" fill="#0a0a0a" stroke="#0a0a0a" stroke-width="1.5" stroke-linejoin="round">−1.50V</text><rect x="1132.5" y="1458.6" width="8.8" height="15" rx="2" fill="#fff"/>
<text class="mo" transform="scale(0.86 1)" x="1375.6 1410.2 1444.9 1477.8 1504.0 1546.2 1580.3 1614.2" y="1371.4" font-size="58" fill="#fff" stroke="#fff" stroke-width="1.9" stroke-linejoin="round">4: 1.00V</text><rect x="1340.2" y="1344.8" width="8.8" height="15" rx="2" fill="#10aa4f"/><rect x="1369.6" y="1344.8" width="8.8" height="15" rx="2" fill="#10aa4f"/>
<text class="mo" transform="scale(0.86 1)" x="1379.4 1413.6 1446.8 1481.6 1516.5" y="1429.9" font-size="58.5" font-weight="bold" fill="#0a0a0a" stroke="#0a0a0a" stroke-width="0.9" stroke-linejoin="round">AC1MΩ</text>
<text class="mo" transform="scale(0.86 1)" x="1379.5 1415.8 1448.0" y="1485.2" font-size="58" fill="#0a0a0a" stroke="#0a0a0a" stroke-width="1.5" stroke-linejoin="round">ofs</text>
<text class="mo" transform="scale(0.86 1)" x="1605.6 1640.0 1665.8 1708.0 1742.1 1776.0" y="1485.2" font-size="58" fill="#0a0a0a" stroke="#0a0a0a" stroke-width="1.5" stroke-linejoin="round">−3.00V</text><rect x="1479.4" y="1458.6" width="8.8" height="15" rx="2" fill="#fff"/><rect x="1508.8" y="1458.6" width="8.8" height="15" rx="2" fill="#fff"/>
</svg></body></html>
